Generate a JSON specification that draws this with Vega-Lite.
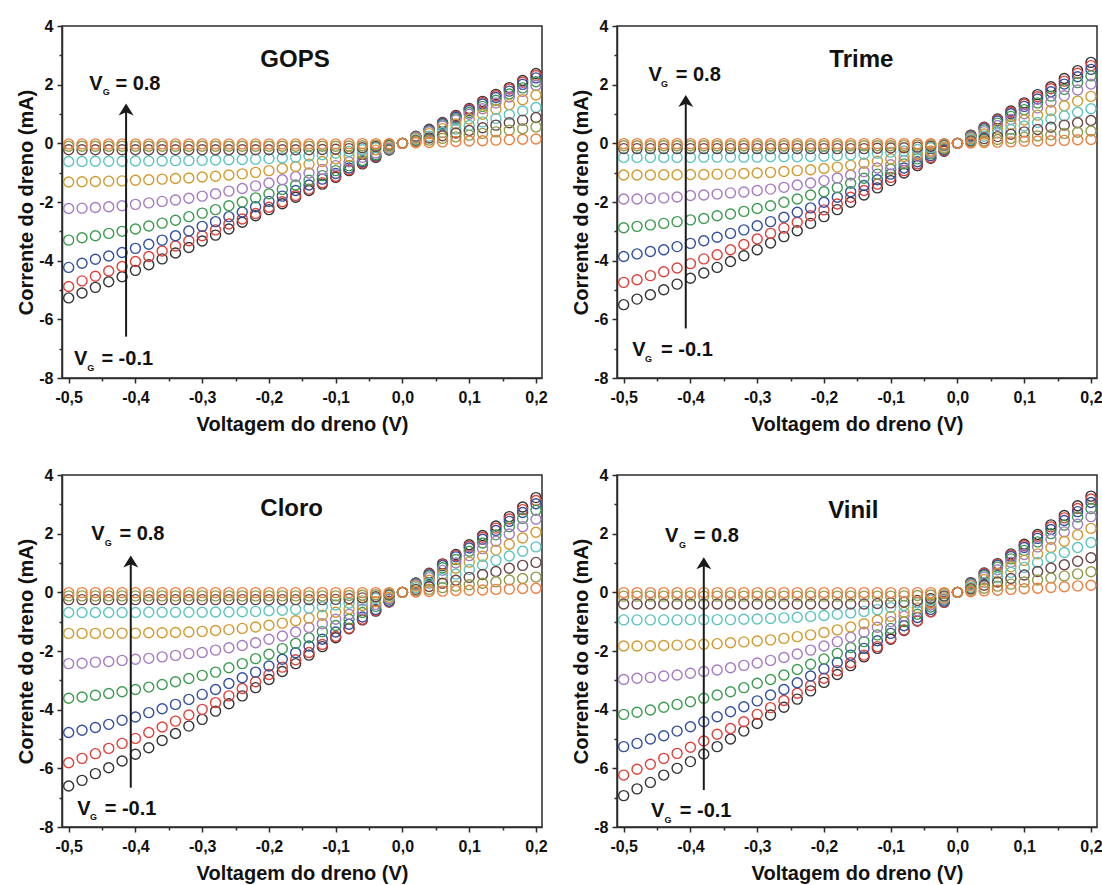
{
  "$schema": "https://vega.github.io/schema/vega-lite/v6.json",
  "background": "white",
  "padding": {"left": 16, "top": 17, "right": 0, "bottom": 0},
  "columns": 2,
  "bounds": "flush",
  "spacing": {"row": 97, "column": 75},
  "datasets": {
    "gops": [
      {"g":-0.1,"x":-0.5,"y":-5.27},{"g":-0.1,"x":-0.48,"y":-5.1},{"g":-0.1,"x":-0.46,"y":-4.91},{"g":-0.1,"x":-0.44,"y":-4.72},{"g":-0.1,"x":-0.42,"y":-4.55},{"g":-0.1,"x":-0.4,"y":-4.33},{"g":-0.1,"x":-0.38,"y":-4.14},{"g":-0.1,"x":-0.36,"y":-3.94},{"g":-0.1,"x":-0.34,"y":-3.74},{"g":-0.1,"x":-0.32,"y":-3.55},{"g":-0.1,"x":-0.3,"y":-3.33},{"g":-0.1,"x":-0.28,"y":-3.13},{"g":-0.1,"x":-0.26,"y":-2.92},{"g":-0.1,"x":-0.24,"y":-2.69},{"g":-0.1,"x":-0.22,"y":-2.47},{"g":-0.1,"x":-0.2,"y":-2.26},{"g":-0.1,"x":-0.18,"y":-2.06},{"g":-0.1,"x":-0.16,"y":-1.84},{"g":-0.1,"x":-0.14,"y":-1.61},{"g":-0.1,"x":-0.12,"y":-1.39},{"g":-0.1,"x":-0.1,"y":-1.16},{"g":-0.1,"x":-0.08,"y":-0.93},{"g":-0.1,"x":-0.06,"y":-0.7},{"g":-0.1,"x":-0.04,"y":-0.48},{"g":-0.1,"x":-0.02,"y":-0.23},{"g":-0.1,"x":0,"y":0},{"g":-0.1,"x":0.02,"y":0.24},{"g":-0.1,"x":0.04,"y":0.48},{"g":-0.1,"x":0.06,"y":0.71},{"g":-0.1,"x":0.08,"y":0.95},{"g":-0.1,"x":0.1,"y":1.19},{"g":-0.1,"x":0.12,"y":1.43},{"g":-0.1,"x":0.14,"y":1.67},{"g":-0.1,"x":0.16,"y":1.9},{"g":-0.1,"x":0.18,"y":2.14},{"g":-0.1,"x":0.2,"y":2.38},
      {"g":0,"x":-0.5,"y":-4.88},{"g":0,"x":-0.48,"y":-4.69},{"g":0,"x":-0.46,"y":-4.53},{"g":0,"x":-0.44,"y":-4.35},{"g":0,"x":-0.42,"y":-4.2},{"g":0,"x":-0.4,"y":-4.03},{"g":0,"x":-0.38,"y":-3.86},{"g":0,"x":-0.36,"y":-3.67},{"g":0,"x":-0.34,"y":-3.5},{"g":0,"x":-0.32,"y":-3.32},{"g":0,"x":-0.3,"y":-3.15},{"g":0,"x":-0.28,"y":-2.95},{"g":0,"x":-0.26,"y":-2.75},{"g":0,"x":-0.24,"y":-2.58},{"g":0,"x":-0.22,"y":-2.39},{"g":0,"x":-0.2,"y":-2.18},{"g":0,"x":-0.18,"y":-1.99},{"g":0,"x":-0.16,"y":-1.78},{"g":0,"x":-0.14,"y":-1.56},{"g":0,"x":-0.12,"y":-1.34},{"g":0,"x":-0.1,"y":-1.12},{"g":0,"x":-0.08,"y":-0.9},{"g":0,"x":-0.06,"y":-0.67},{"g":0,"x":-0.04,"y":-0.45},{"g":0,"x":-0.02,"y":-0.22},{"g":0,"x":0,"y":0},{"g":0,"x":0.02,"y":0.23},{"g":0,"x":0.04,"y":0.46},{"g":0,"x":0.06,"y":0.69},{"g":0,"x":0.08,"y":0.92},{"g":0,"x":0.1,"y":1.16},{"g":0,"x":0.12,"y":1.39},{"g":0,"x":0.14,"y":1.62},{"g":0,"x":0.16,"y":1.85},{"g":0,"x":0.18,"y":2.08},{"g":0,"x":0.2,"y":2.31},
      {"g":0.1,"x":-0.5,"y":-4.23},{"g":0.1,"x":-0.48,"y":-4.09},{"g":0.1,"x":-0.46,"y":-3.95},{"g":0.1,"x":-0.44,"y":-3.84},{"g":0.1,"x":-0.42,"y":-3.72},{"g":0.1,"x":-0.4,"y":-3.58},{"g":0.1,"x":-0.38,"y":-3.44},{"g":0.1,"x":-0.36,"y":-3.3},{"g":0.1,"x":-0.34,"y":-3.15},{"g":0.1,"x":-0.32,"y":-2.99},{"g":0.1,"x":-0.3,"y":-2.83},{"g":0.1,"x":-0.28,"y":-2.67},{"g":0.1,"x":-0.26,"y":-2.5},{"g":0.1,"x":-0.24,"y":-2.34},{"g":0.1,"x":-0.22,"y":-2.16},{"g":0.1,"x":-0.2,"y":-1.98},{"g":0.1,"x":-0.18,"y":-1.8},{"g":0.1,"x":-0.16,"y":-1.61},{"g":0.1,"x":-0.14,"y":-1.42},{"g":0.1,"x":-0.12,"y":-1.22},{"g":0.1,"x":-0.1,"y":-1.03},{"g":0.1,"x":-0.08,"y":-0.84},{"g":0.1,"x":-0.06,"y":-0.63},{"g":0.1,"x":-0.04,"y":-0.42},{"g":0.1,"x":-0.02,"y":-0.21},{"g":0.1,"x":0,"y":0},{"g":0.1,"x":0.02,"y":0.22},{"g":0.1,"x":0.04,"y":0.45},{"g":0.1,"x":0.06,"y":0.67},{"g":0.1,"x":0.08,"y":0.89},{"g":0.1,"x":0.1,"y":1.12},{"g":0.1,"x":0.12,"y":1.34},{"g":0.1,"x":0.14,"y":1.56},{"g":0.1,"x":0.16,"y":1.78},{"g":0.1,"x":0.18,"y":2.01},{"g":0.1,"x":0.2,"y":2.23},
      {"g":0.2,"x":-0.5,"y":-3.3},{"g":0.2,"x":-0.48,"y":-3.22},{"g":0.2,"x":-0.46,"y":-3.15},{"g":0.2,"x":-0.44,"y":-3.07},{"g":0.2,"x":-0.42,"y":-3},{"g":0.2,"x":-0.4,"y":-2.92},{"g":0.2,"x":-0.38,"y":-2.82},{"g":0.2,"x":-0.36,"y":-2.72},{"g":0.2,"x":-0.34,"y":-2.62},{"g":0.2,"x":-0.32,"y":-2.5},{"g":0.2,"x":-0.3,"y":-2.38},{"g":0.2,"x":-0.28,"y":-2.26},{"g":0.2,"x":-0.26,"y":-2.13},{"g":0.2,"x":-0.24,"y":-2},{"g":0.2,"x":-0.22,"y":-1.86},{"g":0.2,"x":-0.2,"y":-1.72},{"g":0.2,"x":-0.18,"y":-1.57},{"g":0.2,"x":-0.16,"y":-1.42},{"g":0.2,"x":-0.14,"y":-1.26},{"g":0.2,"x":-0.12,"y":-1.1},{"g":0.2,"x":-0.1,"y":-0.93},{"g":0.2,"x":-0.08,"y":-0.76},{"g":0.2,"x":-0.06,"y":-0.58},{"g":0.2,"x":-0.04,"y":-0.39},{"g":0.2,"x":-0.02,"y":-0.2},{"g":0.2,"x":0,"y":0},{"g":0.2,"x":0.02,"y":0.21},{"g":0.2,"x":0.04,"y":0.42},{"g":0.2,"x":0.06,"y":0.63},{"g":0.2,"x":0.08,"y":0.84},{"g":0.2,"x":0.1,"y":1.05},{"g":0.2,"x":0.12,"y":1.26},{"g":0.2,"x":0.14,"y":1.47},{"g":0.2,"x":0.16,"y":1.68},{"g":0.2,"x":0.18,"y":1.89},{"g":0.2,"x":0.2,"y":2.1},
      {"g":0.3,"x":-0.5,"y":-2.22},{"g":0.3,"x":-0.48,"y":-2.21},{"g":0.3,"x":-0.46,"y":-2.19},{"g":0.3,"x":-0.44,"y":-2.16},{"g":0.3,"x":-0.42,"y":-2.13},{"g":0.3,"x":-0.4,"y":-2.08},{"g":0.3,"x":-0.38,"y":-2.03},{"g":0.3,"x":-0.36,"y":-1.98},{"g":0.3,"x":-0.34,"y":-1.93},{"g":0.3,"x":-0.32,"y":-1.87},{"g":0.3,"x":-0.3,"y":-1.8},{"g":0.3,"x":-0.28,"y":-1.72},{"g":0.3,"x":-0.26,"y":-1.63},{"g":0.3,"x":-0.24,"y":-1.54},{"g":0.3,"x":-0.22,"y":-1.45},{"g":0.3,"x":-0.2,"y":-1.35},{"g":0.3,"x":-0.18,"y":-1.24},{"g":0.3,"x":-0.16,"y":-1.13},{"g":0.3,"x":-0.14,"y":-1.01},{"g":0.3,"x":-0.12,"y":-0.89},{"g":0.3,"x":-0.1,"y":-0.76},{"g":0.3,"x":-0.08,"y":-0.63},{"g":0.3,"x":-0.06,"y":-0.48},{"g":0.3,"x":-0.04,"y":-0.33},{"g":0.3,"x":-0.02,"y":-0.17},{"g":0.3,"x":0,"y":0},{"g":0.3,"x":0.02,"y":0.2},{"g":0.3,"x":0.04,"y":0.39},{"g":0.3,"x":0.06,"y":0.59},{"g":0.3,"x":0.08,"y":0.79},{"g":0.3,"x":0.1,"y":0.99},{"g":0.3,"x":0.12,"y":1.18},{"g":0.3,"x":0.14,"y":1.38},{"g":0.3,"x":0.16,"y":1.58},{"g":0.3,"x":0.18,"y":1.77},{"g":0.3,"x":0.2,"y":1.97},
      {"g":0.4,"x":-0.5,"y":-1.32},{"g":0.4,"x":-0.48,"y":-1.31},{"g":0.4,"x":-0.46,"y":-1.3},{"g":0.4,"x":-0.44,"y":-1.29},{"g":0.4,"x":-0.42,"y":-1.28},{"g":0.4,"x":-0.4,"y":-1.26},{"g":0.4,"x":-0.38,"y":-1.24},{"g":0.4,"x":-0.36,"y":-1.22},{"g":0.4,"x":-0.34,"y":-1.2},{"g":0.4,"x":-0.32,"y":-1.18},{"g":0.4,"x":-0.3,"y":-1.15},{"g":0.4,"x":-0.28,"y":-1.12},{"g":0.4,"x":-0.26,"y":-1.08},{"g":0.4,"x":-0.24,"y":-1.04},{"g":0.4,"x":-0.22,"y":-0.99},{"g":0.4,"x":-0.2,"y":-0.93},{"g":0.4,"x":-0.18,"y":-0.86},{"g":0.4,"x":-0.16,"y":-0.79},{"g":0.4,"x":-0.14,"y":-0.71},{"g":0.4,"x":-0.12,"y":-0.62},{"g":0.4,"x":-0.1,"y":-0.53},{"g":0.4,"x":-0.08,"y":-0.44},{"g":0.4,"x":-0.06,"y":-0.34},{"g":0.4,"x":-0.04,"y":-0.23},{"g":0.4,"x":-0.02,"y":-0.12},{"g":0.4,"x":0,"y":0},{"g":0.4,"x":0.02,"y":0.17},{"g":0.4,"x":0.04,"y":0.33},{"g":0.4,"x":0.06,"y":0.5},{"g":0.4,"x":0.08,"y":0.66},{"g":0.4,"x":0.1,"y":0.83},{"g":0.4,"x":0.12,"y":0.99},{"g":0.4,"x":0.14,"y":1.16},{"g":0.4,"x":0.16,"y":1.32},{"g":0.4,"x":0.18,"y":1.49},{"g":0.4,"x":0.2,"y":1.65},
      {"g":0.5,"x":-0.5,"y":-0.62},{"g":0.5,"x":-0.48,"y":-0.62},{"g":0.5,"x":-0.46,"y":-0.61},{"g":0.5,"x":-0.44,"y":-0.61},{"g":0.5,"x":-0.42,"y":-0.61},{"g":0.5,"x":-0.4,"y":-0.6},{"g":0.5,"x":-0.38,"y":-0.6},{"g":0.5,"x":-0.36,"y":-0.6},{"g":0.5,"x":-0.34,"y":-0.59},{"g":0.5,"x":-0.32,"y":-0.59},{"g":0.5,"x":-0.3,"y":-0.58},{"g":0.5,"x":-0.28,"y":-0.57},{"g":0.5,"x":-0.26,"y":-0.56},{"g":0.5,"x":-0.24,"y":-0.55},{"g":0.5,"x":-0.22,"y":-0.54},{"g":0.5,"x":-0.2,"y":-0.52},{"g":0.5,"x":-0.18,"y":-0.5},{"g":0.5,"x":-0.16,"y":-0.47},{"g":0.5,"x":-0.14,"y":-0.43},{"g":0.5,"x":-0.12,"y":-0.39},{"g":0.5,"x":-0.1,"y":-0.34},{"g":0.5,"x":-0.08,"y":-0.28},{"g":0.5,"x":-0.06,"y":-0.22},{"g":0.5,"x":-0.04,"y":-0.15},{"g":0.5,"x":-0.02,"y":-0.08},{"g":0.5,"x":0,"y":0},{"g":0.5,"x":0.02,"y":0.12},{"g":0.5,"x":0.04,"y":0.24},{"g":0.5,"x":0.06,"y":0.37},{"g":0.5,"x":0.08,"y":0.49},{"g":0.5,"x":0.1,"y":0.61},{"g":0.5,"x":0.12,"y":0.73},{"g":0.5,"x":0.14,"y":0.85},{"g":0.5,"x":0.16,"y":0.98},{"g":0.5,"x":0.18,"y":1.1},{"g":0.5,"x":0.2,"y":1.22},
      {"g":0.6,"x":-0.5,"y":-0.22},{"g":0.6,"x":-0.48,"y":-0.22},{"g":0.6,"x":-0.46,"y":-0.22},{"g":0.6,"x":-0.44,"y":-0.22},{"g":0.6,"x":-0.42,"y":-0.22},{"g":0.6,"x":-0.4,"y":-0.22},{"g":0.6,"x":-0.38,"y":-0.22},{"g":0.6,"x":-0.36,"y":-0.22},{"g":0.6,"x":-0.34,"y":-0.22},{"g":0.6,"x":-0.32,"y":-0.22},{"g":0.6,"x":-0.3,"y":-0.22},{"g":0.6,"x":-0.28,"y":-0.22},{"g":0.6,"x":-0.26,"y":-0.22},{"g":0.6,"x":-0.24,"y":-0.22},{"g":0.6,"x":-0.22,"y":-0.22},{"g":0.6,"x":-0.2,"y":-0.22},{"g":0.6,"x":-0.18,"y":-0.22},{"g":0.6,"x":-0.16,"y":-0.22},{"g":0.6,"x":-0.14,"y":-0.22},{"g":0.6,"x":-0.12,"y":-0.21},{"g":0.6,"x":-0.1,"y":-0.2},{"g":0.6,"x":-0.08,"y":-0.18},{"g":0.6,"x":-0.06,"y":-0.15},{"g":0.6,"x":-0.04,"y":-0.11},{"g":0.6,"x":-0.02,"y":-0.06},{"g":0.6,"x":0,"y":0},{"g":0.6,"x":0.02,"y":0.09},{"g":0.6,"x":0.04,"y":0.18},{"g":0.6,"x":0.06,"y":0.26},{"g":0.6,"x":0.08,"y":0.35},{"g":0.6,"x":0.1,"y":0.44},{"g":0.6,"x":0.12,"y":0.53},{"g":0.6,"x":0.14,"y":0.62},{"g":0.6,"x":0.16,"y":0.7},{"g":0.6,"x":0.18,"y":0.79},{"g":0.6,"x":0.2,"y":0.88},
      {"g":0.7,"x":-0.5,"y":-0.1},{"g":0.7,"x":-0.48,"y":-0.1},{"g":0.7,"x":-0.46,"y":-0.1},{"g":0.7,"x":-0.44,"y":-0.1},{"g":0.7,"x":-0.42,"y":-0.1},{"g":0.7,"x":-0.4,"y":-0.1},{"g":0.7,"x":-0.38,"y":-0.1},{"g":0.7,"x":-0.36,"y":-0.1},{"g":0.7,"x":-0.34,"y":-0.1},{"g":0.7,"x":-0.32,"y":-0.1},{"g":0.7,"x":-0.3,"y":-0.1},{"g":0.7,"x":-0.28,"y":-0.1},{"g":0.7,"x":-0.26,"y":-0.1},{"g":0.7,"x":-0.24,"y":-0.1},{"g":0.7,"x":-0.22,"y":-0.1},{"g":0.7,"x":-0.2,"y":-0.1},{"g":0.7,"x":-0.18,"y":-0.1},{"g":0.7,"x":-0.16,"y":-0.1},{"g":0.7,"x":-0.14,"y":-0.1},{"g":0.7,"x":-0.12,"y":-0.1},{"g":0.7,"x":-0.1,"y":-0.1},{"g":0.7,"x":-0.08,"y":-0.09},{"g":0.7,"x":-0.06,"y":-0.08},{"g":0.7,"x":-0.04,"y":-0.06},{"g":0.7,"x":-0.02,"y":-0.03},{"g":0.7,"x":0,"y":0},{"g":0.7,"x":0.02,"y":0.06},{"g":0.7,"x":0.04,"y":0.11},{"g":0.7,"x":0.06,"y":0.17},{"g":0.7,"x":0.08,"y":0.22},{"g":0.7,"x":0.1,"y":0.28},{"g":0.7,"x":0.12,"y":0.34},{"g":0.7,"x":0.14,"y":0.39},{"g":0.7,"x":0.16,"y":0.45},{"g":0.7,"x":0.18,"y":0.5},{"g":0.7,"x":0.2,"y":0.56},
      {"g":0.8,"x":-0.5,"y":-0.02},{"g":0.8,"x":-0.48,"y":-0.02},{"g":0.8,"x":-0.46,"y":-0.02},{"g":0.8,"x":-0.44,"y":-0.02},{"g":0.8,"x":-0.42,"y":-0.02},{"g":0.8,"x":-0.4,"y":-0.02},{"g":0.8,"x":-0.38,"y":-0.02},{"g":0.8,"x":-0.36,"y":-0.02},{"g":0.8,"x":-0.34,"y":-0.02},{"g":0.8,"x":-0.32,"y":-0.02},{"g":0.8,"x":-0.3,"y":-0.02},{"g":0.8,"x":-0.28,"y":-0.02},{"g":0.8,"x":-0.26,"y":-0.02},{"g":0.8,"x":-0.24,"y":-0.02},{"g":0.8,"x":-0.22,"y":-0.02},{"g":0.8,"x":-0.2,"y":-0.02},{"g":0.8,"x":-0.18,"y":-0.02},{"g":0.8,"x":-0.16,"y":-0.02},{"g":0.8,"x":-0.14,"y":-0.02},{"g":0.8,"x":-0.12,"y":-0.02},{"g":0.8,"x":-0.1,"y":-0.02},{"g":0.8,"x":-0.08,"y":-0.01},{"g":0.8,"x":-0.06,"y":-0.01},{"g":0.8,"x":-0.04,"y":-0.01},{"g":0.8,"x":-0.02,"y":-0.01},{"g":0.8,"x":0,"y":0},{"g":0.8,"x":0.02,"y":0.02},{"g":0.8,"x":0.04,"y":0.03},{"g":0.8,"x":0.06,"y":0.05},{"g":0.8,"x":0.08,"y":0.06},{"g":0.8,"x":0.1,"y":0.08},{"g":0.8,"x":0.12,"y":0.09},{"g":0.8,"x":0.14,"y":0.11},{"g":0.8,"x":0.16,"y":0.12},{"g":0.8,"x":0.18,"y":0.14},{"g":0.8,"x":0.2,"y":0.15}
    ],
    "trime": [
      {"g":-0.1,"x":-0.5,"y":-5.5},{"g":-0.1,"x":-0.48,"y":-5.31},{"g":-0.1,"x":-0.46,"y":-5.16},{"g":-0.1,"x":-0.44,"y":-4.99},{"g":-0.1,"x":-0.42,"y":-4.8},{"g":-0.1,"x":-0.4,"y":-4.6},{"g":-0.1,"x":-0.38,"y":-4.42},{"g":-0.1,"x":-0.36,"y":-4.23},{"g":-0.1,"x":-0.34,"y":-4.03},{"g":-0.1,"x":-0.32,"y":-3.83},{"g":-0.1,"x":-0.3,"y":-3.63},{"g":-0.1,"x":-0.28,"y":-3.4},{"g":-0.1,"x":-0.26,"y":-3.18},{"g":-0.1,"x":-0.24,"y":-2.98},{"g":-0.1,"x":-0.22,"y":-2.73},{"g":-0.1,"x":-0.2,"y":-2.5},{"g":-0.1,"x":-0.18,"y":-2.26},{"g":-0.1,"x":-0.16,"y":-2.01},{"g":-0.1,"x":-0.14,"y":-1.76},{"g":-0.1,"x":-0.12,"y":-1.52},{"g":-0.1,"x":-0.1,"y":-1.27},{"g":-0.1,"x":-0.08,"y":-1.01},{"g":-0.1,"x":-0.06,"y":-0.76},{"g":-0.1,"x":-0.04,"y":-0.51},{"g":-0.1,"x":-0.02,"y":-0.27},{"g":-0.1,"x":0,"y":0},{"g":-0.1,"x":0.02,"y":0.28},{"g":-0.1,"x":0.04,"y":0.55},{"g":-0.1,"x":0.06,"y":0.83},{"g":-0.1,"x":0.08,"y":1.1},{"g":-0.1,"x":0.1,"y":1.38},{"g":-0.1,"x":0.12,"y":1.66},{"g":-0.1,"x":0.14,"y":1.93},{"g":-0.1,"x":0.16,"y":2.21},{"g":-0.1,"x":0.18,"y":2.48},{"g":-0.1,"x":0.2,"y":2.76},
      {"g":0,"x":-0.5,"y":-4.74},{"g":0,"x":-0.48,"y":-4.65},{"g":0,"x":-0.46,"y":-4.51},{"g":0,"x":-0.44,"y":-4.38},{"g":0,"x":-0.42,"y":-4.25},{"g":0,"x":-0.4,"y":-4.1},{"g":0,"x":-0.38,"y":-3.94},{"g":0,"x":-0.36,"y":-3.8},{"g":0,"x":-0.34,"y":-3.63},{"g":0,"x":-0.32,"y":-3.45},{"g":0,"x":-0.3,"y":-3.26},{"g":0,"x":-0.28,"y":-3.07},{"g":0,"x":-0.26,"y":-2.89},{"g":0,"x":-0.24,"y":-2.69},{"g":0,"x":-0.22,"y":-2.47},{"g":0,"x":-0.2,"y":-2.27},{"g":0,"x":-0.18,"y":-2.07},{"g":0,"x":-0.16,"y":-1.84},{"g":0,"x":-0.14,"y":-1.61},{"g":0,"x":-0.12,"y":-1.39},{"g":0,"x":-0.1,"y":-1.16},{"g":0,"x":-0.08,"y":-0.93},{"g":0,"x":-0.06,"y":-0.7},{"g":0,"x":-0.04,"y":-0.48},{"g":0,"x":-0.02,"y":-0.25},{"g":0,"x":0,"y":0},{"g":0,"x":0.02,"y":0.27},{"g":0,"x":0.04,"y":0.53},{"g":0,"x":0.06,"y":0.8},{"g":0,"x":0.08,"y":1.06},{"g":0,"x":0.1,"y":1.33},{"g":0,"x":0.12,"y":1.59},{"g":0,"x":0.14,"y":1.86},{"g":0,"x":0.16,"y":2.12},{"g":0,"x":0.18,"y":2.39},{"g":0,"x":0.2,"y":2.65},
      {"g":0.1,"x":-0.5,"y":-3.86},{"g":0.1,"x":-0.48,"y":-3.77},{"g":0.1,"x":-0.46,"y":-3.69},{"g":0.1,"x":-0.44,"y":-3.63},{"g":0.1,"x":-0.42,"y":-3.52},{"g":0.1,"x":-0.4,"y":-3.41},{"g":0.1,"x":-0.38,"y":-3.32},{"g":0.1,"x":-0.36,"y":-3.2},{"g":0.1,"x":-0.34,"y":-3.07},{"g":0.1,"x":-0.32,"y":-2.95},{"g":0.1,"x":-0.3,"y":-2.81},{"g":0.1,"x":-0.28,"y":-2.67},{"g":0.1,"x":-0.26,"y":-2.52},{"g":0.1,"x":-0.24,"y":-2.35},{"g":0.1,"x":-0.22,"y":-2.2},{"g":0.1,"x":-0.2,"y":-2.01},{"g":0.1,"x":-0.18,"y":-1.84},{"g":0.1,"x":-0.16,"y":-1.65},{"g":0.1,"x":-0.14,"y":-1.44},{"g":0.1,"x":-0.12,"y":-1.24},{"g":0.1,"x":-0.1,"y":-1.05},{"g":0.1,"x":-0.08,"y":-0.84},{"g":0.1,"x":-0.06,"y":-0.63},{"g":0.1,"x":-0.04,"y":-0.42},{"g":0.1,"x":-0.02,"y":-0.22},{"g":0.1,"x":0,"y":0},{"g":0.1,"x":0.02,"y":0.25},{"g":0.1,"x":0.04,"y":0.5},{"g":0.1,"x":0.06,"y":0.76},{"g":0.1,"x":0.08,"y":1.01},{"g":0.1,"x":0.1,"y":1.26},{"g":0.1,"x":0.12,"y":1.51},{"g":0.1,"x":0.14,"y":1.76},{"g":0.1,"x":0.16,"y":2.02},{"g":0.1,"x":0.18,"y":2.27},{"g":0.1,"x":0.2,"y":2.52},
      {"g":0.2,"x":-0.5,"y":-2.88},{"g":0.2,"x":-0.48,"y":-2.83},{"g":0.2,"x":-0.46,"y":-2.78},{"g":0.2,"x":-0.44,"y":-2.73},{"g":0.2,"x":-0.42,"y":-2.67},{"g":0.2,"x":-0.4,"y":-2.61},{"g":0.2,"x":-0.38,"y":-2.56},{"g":0.2,"x":-0.36,"y":-2.47},{"g":0.2,"x":-0.34,"y":-2.41},{"g":0.2,"x":-0.32,"y":-2.32},{"g":0.2,"x":-0.3,"y":-2.22},{"g":0.2,"x":-0.28,"y":-2.13},{"g":0.2,"x":-0.26,"y":-2.01},{"g":0.2,"x":-0.24,"y":-1.9},{"g":0.2,"x":-0.22,"y":-1.76},{"g":0.2,"x":-0.2,"y":-1.65},{"g":0.2,"x":-0.18,"y":-1.51},{"g":0.2,"x":-0.16,"y":-1.36},{"g":0.2,"x":-0.14,"y":-1.19},{"g":0.2,"x":-0.12,"y":-1.05},{"g":0.2,"x":-0.1,"y":-0.88},{"g":0.2,"x":-0.08,"y":-0.7},{"g":0.2,"x":-0.06,"y":-0.53},{"g":0.2,"x":-0.04,"y":-0.36},{"g":0.2,"x":-0.02,"y":-0.19},{"g":0.2,"x":0,"y":0},{"g":0.2,"x":0.02,"y":0.23},{"g":0.2,"x":0.04,"y":0.46},{"g":0.2,"x":0.06,"y":0.69},{"g":0.2,"x":0.08,"y":0.92},{"g":0.2,"x":0.1,"y":1.15},{"g":0.2,"x":0.12,"y":1.38},{"g":0.2,"x":0.14,"y":1.61},{"g":0.2,"x":0.16,"y":1.84},{"g":0.2,"x":0.18,"y":2.07},{"g":0.2,"x":0.2,"y":2.3},
      {"g":0.3,"x":-0.5,"y":-1.9},{"g":0.3,"x":-0.48,"y":-1.9},{"g":0.3,"x":-0.46,"y":-1.88},{"g":0.3,"x":-0.44,"y":-1.86},{"g":0.3,"x":-0.42,"y":-1.83},{"g":0.3,"x":-0.4,"y":-1.78},{"g":0.3,"x":-0.38,"y":-1.76},{"g":0.3,"x":-0.36,"y":-1.73},{"g":0.3,"x":-0.34,"y":-1.69},{"g":0.3,"x":-0.32,"y":-1.66},{"g":0.3,"x":-0.3,"y":-1.61},{"g":0.3,"x":-0.28,"y":-1.56},{"g":0.3,"x":-0.26,"y":-1.5},{"g":0.3,"x":-0.24,"y":-1.42},{"g":0.3,"x":-0.22,"y":-1.35},{"g":0.3,"x":-0.2,"y":-1.27},{"g":0.3,"x":-0.18,"y":-1.18},{"g":0.3,"x":-0.16,"y":-1.08},{"g":0.3,"x":-0.14,"y":-0.97},{"g":0.3,"x":-0.12,"y":-0.84},{"g":0.3,"x":-0.1,"y":-0.73},{"g":0.3,"x":-0.08,"y":-0.59},{"g":0.3,"x":-0.06,"y":-0.44},{"g":0.3,"x":-0.04,"y":-0.31},{"g":0.3,"x":-0.02,"y":-0.16},{"g":0.3,"x":0,"y":0},{"g":0.3,"x":0.02,"y":0.2},{"g":0.3,"x":0.04,"y":0.4},{"g":0.3,"x":0.06,"y":0.61},{"g":0.3,"x":0.08,"y":0.81},{"g":0.3,"x":0.1,"y":1.01},{"g":0.3,"x":0.12,"y":1.21},{"g":0.3,"x":0.14,"y":1.41},{"g":0.3,"x":0.16,"y":1.62},{"g":0.3,"x":0.18,"y":1.82},{"g":0.3,"x":0.2,"y":2.02},
      {"g":0.4,"x":-0.5,"y":-1.08},{"g":0.4,"x":-0.48,"y":-1.08},{"g":0.4,"x":-0.46,"y":-1.08},{"g":0.4,"x":-0.44,"y":-1.07},{"g":0.4,"x":-0.42,"y":-1.07},{"g":0.4,"x":-0.4,"y":-1.06},{"g":0.4,"x":-0.38,"y":-1.06},{"g":0.4,"x":-0.36,"y":-1.05},{"g":0.4,"x":-0.34,"y":-1.04},{"g":0.4,"x":-0.32,"y":-1.03},{"g":0.4,"x":-0.3,"y":-1.01},{"g":0.4,"x":-0.28,"y":-0.99},{"g":0.4,"x":-0.26,"y":-0.96},{"g":0.4,"x":-0.24,"y":-0.93},{"g":0.4,"x":-0.22,"y":-0.9},{"g":0.4,"x":-0.2,"y":-0.86},{"g":0.4,"x":-0.18,"y":-0.81},{"g":0.4,"x":-0.16,"y":-0.75},{"g":0.4,"x":-0.14,"y":-0.68},{"g":0.4,"x":-0.12,"y":-0.61},{"g":0.4,"x":-0.1,"y":-0.53},{"g":0.4,"x":-0.08,"y":-0.45},{"g":0.4,"x":-0.06,"y":-0.36},{"g":0.4,"x":-0.04,"y":-0.26},{"g":0.4,"x":-0.02,"y":-0.14},{"g":0.4,"x":0,"y":0},{"g":0.4,"x":0.02,"y":0.16},{"g":0.4,"x":0.04,"y":0.32},{"g":0.4,"x":0.06,"y":0.48},{"g":0.4,"x":0.08,"y":0.64},{"g":0.4,"x":0.1,"y":0.8},{"g":0.4,"x":0.12,"y":0.96},{"g":0.4,"x":0.14,"y":1.12},{"g":0.4,"x":0.16,"y":1.28},{"g":0.4,"x":0.18,"y":1.44},{"g":0.4,"x":0.2,"y":1.6},
      {"g":0.5,"x":-0.5,"y":-0.48},{"g":0.5,"x":-0.48,"y":-0.48},{"g":0.5,"x":-0.46,"y":-0.48},{"g":0.5,"x":-0.44,"y":-0.48},{"g":0.5,"x":-0.42,"y":-0.48},{"g":0.5,"x":-0.4,"y":-0.48},{"g":0.5,"x":-0.38,"y":-0.47},{"g":0.5,"x":-0.36,"y":-0.47},{"g":0.5,"x":-0.34,"y":-0.47},{"g":0.5,"x":-0.32,"y":-0.47},{"g":0.5,"x":-0.3,"y":-0.47},{"g":0.5,"x":-0.28,"y":-0.46},{"g":0.5,"x":-0.26,"y":-0.46},{"g":0.5,"x":-0.24,"y":-0.46},{"g":0.5,"x":-0.22,"y":-0.45},{"g":0.5,"x":-0.2,"y":-0.44},{"g":0.5,"x":-0.18,"y":-0.42},{"g":0.5,"x":-0.16,"y":-0.4},{"g":0.5,"x":-0.14,"y":-0.37},{"g":0.5,"x":-0.12,"y":-0.34},{"g":0.5,"x":-0.1,"y":-0.3},{"g":0.5,"x":-0.08,"y":-0.26},{"g":0.5,"x":-0.06,"y":-0.21},{"g":0.5,"x":-0.04,"y":-0.15},{"g":0.5,"x":-0.02,"y":-0.08},{"g":0.5,"x":0,"y":0},{"g":0.5,"x":0.02,"y":0.12},{"g":0.5,"x":0.04,"y":0.24},{"g":0.5,"x":0.06,"y":0.35},{"g":0.5,"x":0.08,"y":0.47},{"g":0.5,"x":0.1,"y":0.59},{"g":0.5,"x":0.12,"y":0.71},{"g":0.5,"x":0.14,"y":0.83},{"g":0.5,"x":0.16,"y":0.94},{"g":0.5,"x":0.18,"y":1.06},{"g":0.5,"x":0.2,"y":1.18},
      {"g":0.6,"x":-0.5,"y":-0.18},{"g":0.6,"x":-0.48,"y":-0.18},{"g":0.6,"x":-0.46,"y":-0.18},{"g":0.6,"x":-0.44,"y":-0.18},{"g":0.6,"x":-0.42,"y":-0.18},{"g":0.6,"x":-0.4,"y":-0.18},{"g":0.6,"x":-0.38,"y":-0.18},{"g":0.6,"x":-0.36,"y":-0.18},{"g":0.6,"x":-0.34,"y":-0.18},{"g":0.6,"x":-0.32,"y":-0.18},{"g":0.6,"x":-0.3,"y":-0.18},{"g":0.6,"x":-0.28,"y":-0.18},{"g":0.6,"x":-0.26,"y":-0.18},{"g":0.6,"x":-0.24,"y":-0.18},{"g":0.6,"x":-0.22,"y":-0.18},{"g":0.6,"x":-0.2,"y":-0.18},{"g":0.6,"x":-0.18,"y":-0.18},{"g":0.6,"x":-0.16,"y":-0.18},{"g":0.6,"x":-0.14,"y":-0.18},{"g":0.6,"x":-0.12,"y":-0.17},{"g":0.6,"x":-0.1,"y":-0.16},{"g":0.6,"x":-0.08,"y":-0.15},{"g":0.6,"x":-0.06,"y":-0.13},{"g":0.6,"x":-0.04,"y":-0.1},{"g":0.6,"x":-0.02,"y":-0.06},{"g":0.6,"x":0,"y":0},{"g":0.6,"x":0.02,"y":0.08},{"g":0.6,"x":0.04,"y":0.16},{"g":0.6,"x":0.06,"y":0.23},{"g":0.6,"x":0.08,"y":0.31},{"g":0.6,"x":0.1,"y":0.39},{"g":0.6,"x":0.12,"y":0.47},{"g":0.6,"x":0.14,"y":0.55},{"g":0.6,"x":0.16,"y":0.62},{"g":0.6,"x":0.18,"y":0.7},{"g":0.6,"x":0.2,"y":0.78},
      {"g":0.7,"x":-0.5,"y":-0.08},{"g":0.7,"x":-0.48,"y":-0.08},{"g":0.7,"x":-0.46,"y":-0.08},{"g":0.7,"x":-0.44,"y":-0.08},{"g":0.7,"x":-0.42,"y":-0.08},{"g":0.7,"x":-0.4,"y":-0.08},{"g":0.7,"x":-0.38,"y":-0.08},{"g":0.7,"x":-0.36,"y":-0.08},{"g":0.7,"x":-0.34,"y":-0.08},{"g":0.7,"x":-0.32,"y":-0.08},{"g":0.7,"x":-0.3,"y":-0.08},{"g":0.7,"x":-0.28,"y":-0.08},{"g":0.7,"x":-0.26,"y":-0.08},{"g":0.7,"x":-0.24,"y":-0.08},{"g":0.7,"x":-0.22,"y":-0.08},{"g":0.7,"x":-0.2,"y":-0.08},{"g":0.7,"x":-0.18,"y":-0.08},{"g":0.7,"x":-0.16,"y":-0.08},{"g":0.7,"x":-0.14,"y":-0.08},{"g":0.7,"x":-0.12,"y":-0.08},{"g":0.7,"x":-0.1,"y":-0.08},{"g":0.7,"x":-0.08,"y":-0.07},{"g":0.7,"x":-0.06,"y":-0.06},{"g":0.7,"x":-0.04,"y":-0.05},{"g":0.7,"x":-0.02,"y":-0.03},{"g":0.7,"x":0,"y":0},{"g":0.7,"x":0.02,"y":0.04},{"g":0.7,"x":0.04,"y":0.08},{"g":0.7,"x":0.06,"y":0.13},{"g":0.7,"x":0.08,"y":0.17},{"g":0.7,"x":0.1,"y":0.21},{"g":0.7,"x":0.12,"y":0.25},{"g":0.7,"x":0.14,"y":0.29},{"g":0.7,"x":0.16,"y":0.34},{"g":0.7,"x":0.18,"y":0.38},{"g":0.7,"x":0.2,"y":0.42},
      {"g":0.8,"x":-0.5,"y":-0.01},{"g":0.8,"x":-0.48,"y":-0.01},{"g":0.8,"x":-0.46,"y":-0.01},{"g":0.8,"x":-0.44,"y":-0.01},{"g":0.8,"x":-0.42,"y":-0.01},{"g":0.8,"x":-0.4,"y":-0.01},{"g":0.8,"x":-0.38,"y":-0.01},{"g":0.8,"x":-0.36,"y":-0.01},{"g":0.8,"x":-0.34,"y":-0.01},{"g":0.8,"x":-0.32,"y":-0.01},{"g":0.8,"x":-0.3,"y":-0.01},{"g":0.8,"x":-0.28,"y":-0.01},{"g":0.8,"x":-0.26,"y":-0.01},{"g":0.8,"x":-0.24,"y":-0.01},{"g":0.8,"x":-0.22,"y":-0.01},{"g":0.8,"x":-0.2,"y":-0.01},{"g":0.8,"x":-0.18,"y":-0.01},{"g":0.8,"x":-0.16,"y":-0.01},{"g":0.8,"x":-0.14,"y":-0.01},{"g":0.8,"x":-0.12,"y":-0.01},{"g":0.8,"x":-0.1,"y":-0.01},{"g":0.8,"x":-0.08,"y":-0.01},{"g":0.8,"x":-0.06,"y":-0.01},{"g":0.8,"x":-0.04,"y":-0.01},{"g":0.8,"x":-0.02,"y":-0.01},{"g":0.8,"x":0,"y":0},{"g":0.8,"x":0.02,"y":0.01},{"g":0.8,"x":0.04,"y":0.03},{"g":0.8,"x":0.06,"y":0.04},{"g":0.8,"x":0.08,"y":0.05},{"g":0.8,"x":0.1,"y":0.07},{"g":0.8,"x":0.12,"y":0.08},{"g":0.8,"x":0.14,"y":0.09},{"g":0.8,"x":0.16,"y":0.1},{"g":0.8,"x":0.18,"y":0.12},{"g":0.8,"x":0.2,"y":0.13}
    ],
    "cloro": [
      {"g":-0.1,"x":-0.5,"y":-6.6},{"g":-0.1,"x":-0.48,"y":-6.41},{"g":-0.1,"x":-0.46,"y":-6.18},{"g":-0.1,"x":-0.44,"y":-5.98},{"g":-0.1,"x":-0.42,"y":-5.75},{"g":-0.1,"x":-0.4,"y":-5.52},{"g":-0.1,"x":-0.38,"y":-5.3},{"g":-0.1,"x":-0.36,"y":-5.05},{"g":-0.1,"x":-0.34,"y":-4.81},{"g":-0.1,"x":-0.32,"y":-4.56},{"g":-0.1,"x":-0.3,"y":-4.33},{"g":-0.1,"x":-0.28,"y":-4.05},{"g":-0.1,"x":-0.26,"y":-3.8},{"g":-0.1,"x":-0.24,"y":-3.53},{"g":-0.1,"x":-0.22,"y":-3.25},{"g":-0.1,"x":-0.2,"y":-2.97},{"g":-0.1,"x":-0.18,"y":-2.7},{"g":-0.1,"x":-0.16,"y":-2.43},{"g":-0.1,"x":-0.14,"y":-2.14},{"g":-0.1,"x":-0.12,"y":-1.85},{"g":-0.1,"x":-0.1,"y":-1.55},{"g":-0.1,"x":-0.08,"y":-1.24},{"g":-0.1,"x":-0.06,"y":-0.94},{"g":-0.1,"x":-0.04,"y":-0.64},{"g":-0.1,"x":-0.02,"y":-0.33},{"g":-0.1,"x":0,"y":0},{"g":-0.1,"x":0.02,"y":0.32},{"g":-0.1,"x":0.04,"y":0.65},{"g":-0.1,"x":0.06,"y":0.97},{"g":-0.1,"x":0.08,"y":1.29},{"g":-0.1,"x":0.1,"y":1.62},{"g":-0.1,"x":0.12,"y":1.94},{"g":-0.1,"x":0.14,"y":2.26},{"g":-0.1,"x":0.16,"y":2.58},{"g":-0.1,"x":0.18,"y":2.91},{"g":-0.1,"x":0.2,"y":3.23},
      {"g":0,"x":-0.5,"y":-5.81},{"g":0,"x":-0.48,"y":-5.66},{"g":0,"x":-0.46,"y":-5.5},{"g":0,"x":-0.44,"y":-5.32},{"g":0,"x":-0.42,"y":-5.15},{"g":0,"x":-0.4,"y":-4.98},{"g":0,"x":-0.38,"y":-4.78},{"g":0,"x":-0.36,"y":-4.59},{"g":0,"x":-0.34,"y":-4.39},{"g":0,"x":-0.32,"y":-4.18},{"g":0,"x":-0.3,"y":-3.99},{"g":0,"x":-0.28,"y":-3.76},{"g":0,"x":-0.26,"y":-3.53},{"g":0,"x":-0.24,"y":-3.28},{"g":0,"x":-0.22,"y":-3.05},{"g":0,"x":-0.2,"y":-2.8},{"g":0,"x":-0.18,"y":-2.55},{"g":0,"x":-0.16,"y":-2.3},{"g":0,"x":-0.14,"y":-2.05},{"g":0,"x":-0.12,"y":-1.78},{"g":0,"x":-0.1,"y":-1.5},{"g":0,"x":-0.08,"y":-1.22},{"g":0,"x":-0.06,"y":-0.92},{"g":0,"x":-0.04,"y":-0.62},{"g":0,"x":-0.02,"y":-0.32},{"g":0,"x":0,"y":0},{"g":0,"x":0.02,"y":0.31},{"g":0,"x":0.04,"y":0.63},{"g":0,"x":0.06,"y":0.94},{"g":0,"x":0.08,"y":1.25},{"g":0,"x":0.1,"y":1.57},{"g":0,"x":0.12,"y":1.88},{"g":0,"x":0.14,"y":2.19},{"g":0,"x":0.16,"y":2.5},{"g":0,"x":0.18,"y":2.82},{"g":0,"x":0.2,"y":3.13},
      {"g":0.1,"x":-0.5,"y":-4.78},{"g":0.1,"x":-0.48,"y":-4.7},{"g":0.1,"x":-0.46,"y":-4.61},{"g":0.1,"x":-0.44,"y":-4.5},{"g":0.1,"x":-0.42,"y":-4.36},{"g":0.1,"x":-0.4,"y":-4.25},{"g":0.1,"x":-0.38,"y":-4.1},{"g":0.1,"x":-0.36,"y":-3.97},{"g":0.1,"x":-0.34,"y":-3.82},{"g":0.1,"x":-0.32,"y":-3.65},{"g":0.1,"x":-0.3,"y":-3.48},{"g":0.1,"x":-0.28,"y":-3.31},{"g":0.1,"x":-0.26,"y":-3.11},{"g":0.1,"x":-0.24,"y":-2.91},{"g":0.1,"x":-0.22,"y":-2.72},{"g":0.1,"x":-0.2,"y":-2.51},{"g":0.1,"x":-0.18,"y":-2.28},{"g":0.1,"x":-0.16,"y":-2.06},{"g":0.1,"x":-0.14,"y":-1.83},{"g":0.1,"x":-0.12,"y":-1.6},{"g":0.1,"x":-0.1,"y":-1.35},{"g":0.1,"x":-0.08,"y":-1.09},{"g":0.1,"x":-0.06,"y":-0.84},{"g":0.1,"x":-0.04,"y":-0.58},{"g":0.1,"x":-0.02,"y":-0.3},{"g":0.1,"x":0,"y":0},{"g":0.1,"x":0.02,"y":0.3},{"g":0.1,"x":0.04,"y":0.6},{"g":0.1,"x":0.06,"y":0.91},{"g":0.1,"x":0.08,"y":1.21},{"g":0.1,"x":0.1,"y":1.51},{"g":0.1,"x":0.12,"y":1.81},{"g":0.1,"x":0.14,"y":2.11},{"g":0.1,"x":0.16,"y":2.42},{"g":0.1,"x":0.18,"y":2.72},{"g":0.1,"x":0.2,"y":3.02},
      {"g":0.2,"x":-0.5,"y":-3.61},{"g":0.2,"x":-0.48,"y":-3.57},{"g":0.2,"x":-0.46,"y":-3.51},{"g":0.2,"x":-0.44,"y":-3.45},{"g":0.2,"x":-0.42,"y":-3.39},{"g":0.2,"x":-0.4,"y":-3.31},{"g":0.2,"x":-0.38,"y":-3.23},{"g":0.2,"x":-0.36,"y":-3.14},{"g":0.2,"x":-0.34,"y":-3.05},{"g":0.2,"x":-0.32,"y":-2.94},{"g":0.2,"x":-0.3,"y":-2.83},{"g":0.2,"x":-0.28,"y":-2.72},{"g":0.2,"x":-0.26,"y":-2.57},{"g":0.2,"x":-0.24,"y":-2.43},{"g":0.2,"x":-0.22,"y":-2.26},{"g":0.2,"x":-0.2,"y":-2.11},{"g":0.2,"x":-0.18,"y":-1.92},{"g":0.2,"x":-0.16,"y":-1.74},{"g":0.2,"x":-0.14,"y":-1.55},{"g":0.2,"x":-0.12,"y":-1.34},{"g":0.2,"x":-0.1,"y":-1.13},{"g":0.2,"x":-0.08,"y":-0.92},{"g":0.2,"x":-0.06,"y":-0.69},{"g":0.2,"x":-0.04,"y":-0.48},{"g":0.2,"x":-0.02,"y":-0.24},{"g":0.2,"x":0,"y":0},{"g":0.2,"x":0.02,"y":0.28},{"g":0.2,"x":0.04,"y":0.56},{"g":0.2,"x":0.06,"y":0.84},{"g":0.2,"x":0.08,"y":1.12},{"g":0.2,"x":0.1,"y":1.4},{"g":0.2,"x":0.12,"y":1.68},{"g":0.2,"x":0.14,"y":1.96},{"g":0.2,"x":0.16,"y":2.24},{"g":0.2,"x":0.18,"y":2.52},{"g":0.2,"x":0.2,"y":2.8},
      {"g":0.3,"x":-0.5,"y":-2.43},{"g":0.3,"x":-0.48,"y":-2.42},{"g":0.3,"x":-0.46,"y":-2.38},{"g":0.3,"x":-0.44,"y":-2.36},{"g":0.3,"x":-0.42,"y":-2.32},{"g":0.3,"x":-0.4,"y":-2.28},{"g":0.3,"x":-0.38,"y":-2.25},{"g":0.3,"x":-0.36,"y":-2.2},{"g":0.3,"x":-0.34,"y":-2.15},{"g":0.3,"x":-0.32,"y":-2.09},{"g":0.3,"x":-0.3,"y":-2.05},{"g":0.3,"x":-0.28,"y":-1.97},{"g":0.3,"x":-0.26,"y":-1.89},{"g":0.3,"x":-0.24,"y":-1.81},{"g":0.3,"x":-0.22,"y":-1.72},{"g":0.3,"x":-0.2,"y":-1.6},{"g":0.3,"x":-0.18,"y":-1.49},{"g":0.3,"x":-0.16,"y":-1.35},{"g":0.3,"x":-0.14,"y":-1.2},{"g":0.3,"x":-0.12,"y":-1.07},{"g":0.3,"x":-0.1,"y":-0.92},{"g":0.3,"x":-0.08,"y":-0.75},{"g":0.3,"x":-0.06,"y":-0.58},{"g":0.3,"x":-0.04,"y":-0.41},{"g":0.3,"x":-0.02,"y":-0.22},{"g":0.3,"x":0,"y":0},{"g":0.3,"x":0.02,"y":0.25},{"g":0.3,"x":0.04,"y":0.5},{"g":0.3,"x":0.06,"y":0.75},{"g":0.3,"x":0.08,"y":1},{"g":0.3,"x":0.1,"y":1.25},{"g":0.3,"x":0.12,"y":1.49},{"g":0.3,"x":0.14,"y":1.74},{"g":0.3,"x":0.16,"y":1.99},{"g":0.3,"x":0.18,"y":2.24},{"g":0.3,"x":0.2,"y":2.49},
      {"g":0.4,"x":-0.5,"y":-1.4},{"g":0.4,"x":-0.48,"y":-1.4},{"g":0.4,"x":-0.46,"y":-1.4},{"g":0.4,"x":-0.44,"y":-1.39},{"g":0.4,"x":-0.42,"y":-1.39},{"g":0.4,"x":-0.4,"y":-1.39},{"g":0.4,"x":-0.38,"y":-1.38},{"g":0.4,"x":-0.36,"y":-1.38},{"g":0.4,"x":-0.34,"y":-1.37},{"g":0.4,"x":-0.32,"y":-1.35},{"g":0.4,"x":-0.3,"y":-1.33},{"g":0.4,"x":-0.28,"y":-1.3},{"g":0.4,"x":-0.26,"y":-1.27},{"g":0.4,"x":-0.24,"y":-1.23},{"g":0.4,"x":-0.22,"y":-1.18},{"g":0.4,"x":-0.2,"y":-1.12},{"g":0.4,"x":-0.18,"y":-1.05},{"g":0.4,"x":-0.16,"y":-0.97},{"g":0.4,"x":-0.14,"y":-0.88},{"g":0.4,"x":-0.12,"y":-0.78},{"g":0.4,"x":-0.1,"y":-0.68},{"g":0.4,"x":-0.08,"y":-0.57},{"g":0.4,"x":-0.06,"y":-0.45},{"g":0.4,"x":-0.04,"y":-0.32},{"g":0.4,"x":-0.02,"y":-0.17},{"g":0.4,"x":0,"y":0},{"g":0.4,"x":0.02,"y":0.21},{"g":0.4,"x":0.04,"y":0.41},{"g":0.4,"x":0.06,"y":0.62},{"g":0.4,"x":0.08,"y":0.82},{"g":0.4,"x":0.1,"y":1.03},{"g":0.4,"x":0.12,"y":1.23},{"g":0.4,"x":0.14,"y":1.44},{"g":0.4,"x":0.16,"y":1.64},{"g":0.4,"x":0.18,"y":1.85},{"g":0.4,"x":0.2,"y":2.05},
      {"g":0.5,"x":-0.5,"y":-0.69},{"g":0.5,"x":-0.48,"y":-0.69},{"g":0.5,"x":-0.46,"y":-0.69},{"g":0.5,"x":-0.44,"y":-0.69},{"g":0.5,"x":-0.42,"y":-0.69},{"g":0.5,"x":-0.4,"y":-0.69},{"g":0.5,"x":-0.38,"y":-0.68},{"g":0.5,"x":-0.36,"y":-0.68},{"g":0.5,"x":-0.34,"y":-0.68},{"g":0.5,"x":-0.32,"y":-0.68},{"g":0.5,"x":-0.3,"y":-0.68},{"g":0.5,"x":-0.28,"y":-0.67},{"g":0.5,"x":-0.26,"y":-0.67},{"g":0.5,"x":-0.24,"y":-0.66},{"g":0.5,"x":-0.22,"y":-0.65},{"g":0.5,"x":-0.2,"y":-0.63},{"g":0.5,"x":-0.18,"y":-0.61},{"g":0.5,"x":-0.16,"y":-0.58},{"g":0.5,"x":-0.14,"y":-0.54},{"g":0.5,"x":-0.12,"y":-0.49},{"g":0.5,"x":-0.1,"y":-0.43},{"g":0.5,"x":-0.08,"y":-0.37},{"g":0.5,"x":-0.06,"y":-0.29},{"g":0.5,"x":-0.04,"y":-0.2},{"g":0.5,"x":-0.02,"y":-0.11},{"g":0.5,"x":0,"y":0},{"g":0.5,"x":0.02,"y":0.16},{"g":0.5,"x":0.04,"y":0.31},{"g":0.5,"x":0.06,"y":0.47},{"g":0.5,"x":0.08,"y":0.62},{"g":0.5,"x":0.1,"y":0.78},{"g":0.5,"x":0.12,"y":0.93},{"g":0.5,"x":0.14,"y":1.09},{"g":0.5,"x":0.16,"y":1.24},{"g":0.5,"x":0.18,"y":1.4},{"g":0.5,"x":0.2,"y":1.55},
      {"g":0.6,"x":-0.5,"y":-0.25},{"g":0.6,"x":-0.48,"y":-0.25},{"g":0.6,"x":-0.46,"y":-0.25},{"g":0.6,"x":-0.44,"y":-0.25},{"g":0.6,"x":-0.42,"y":-0.25},{"g":0.6,"x":-0.4,"y":-0.25},{"g":0.6,"x":-0.38,"y":-0.25},{"g":0.6,"x":-0.36,"y":-0.25},{"g":0.6,"x":-0.34,"y":-0.25},{"g":0.6,"x":-0.32,"y":-0.25},{"g":0.6,"x":-0.3,"y":-0.25},{"g":0.6,"x":-0.28,"y":-0.25},{"g":0.6,"x":-0.26,"y":-0.25},{"g":0.6,"x":-0.24,"y":-0.25},{"g":0.6,"x":-0.22,"y":-0.25},{"g":0.6,"x":-0.2,"y":-0.25},{"g":0.6,"x":-0.18,"y":-0.25},{"g":0.6,"x":-0.16,"y":-0.25},{"g":0.6,"x":-0.14,"y":-0.25},{"g":0.6,"x":-0.12,"y":-0.25},{"g":0.6,"x":-0.1,"y":-0.24},{"g":0.6,"x":-0.08,"y":-0.22},{"g":0.6,"x":-0.06,"y":-0.19},{"g":0.6,"x":-0.04,"y":-0.15},{"g":0.6,"x":-0.02,"y":-0.08},{"g":0.6,"x":0,"y":0},{"g":0.6,"x":0.02,"y":0.1},{"g":0.6,"x":0.04,"y":0.2},{"g":0.6,"x":0.06,"y":0.31},{"g":0.6,"x":0.08,"y":0.41},{"g":0.6,"x":0.1,"y":0.51},{"g":0.6,"x":0.12,"y":0.61},{"g":0.6,"x":0.14,"y":0.71},{"g":0.6,"x":0.16,"y":0.82},{"g":0.6,"x":0.18,"y":0.92},{"g":0.6,"x":0.2,"y":1.02},
      {"g":0.7,"x":-0.5,"y":-0.12},{"g":0.7,"x":-0.48,"y":-0.12},{"g":0.7,"x":-0.46,"y":-0.12},{"g":0.7,"x":-0.44,"y":-0.12},{"g":0.7,"x":-0.42,"y":-0.12},{"g":0.7,"x":-0.4,"y":-0.12},{"g":0.7,"x":-0.38,"y":-0.12},{"g":0.7,"x":-0.36,"y":-0.12},{"g":0.7,"x":-0.34,"y":-0.12},{"g":0.7,"x":-0.32,"y":-0.12},{"g":0.7,"x":-0.3,"y":-0.12},{"g":0.7,"x":-0.28,"y":-0.12},{"g":0.7,"x":-0.26,"y":-0.12},{"g":0.7,"x":-0.24,"y":-0.12},{"g":0.7,"x":-0.22,"y":-0.12},{"g":0.7,"x":-0.2,"y":-0.12},{"g":0.7,"x":-0.18,"y":-0.12},{"g":0.7,"x":-0.16,"y":-0.12},{"g":0.7,"x":-0.14,"y":-0.12},{"g":0.7,"x":-0.12,"y":-0.12},{"g":0.7,"x":-0.1,"y":-0.12},{"g":0.7,"x":-0.08,"y":-0.11},{"g":0.7,"x":-0.06,"y":-0.1},{"g":0.7,"x":-0.04,"y":-0.08},{"g":0.7,"x":-0.02,"y":-0.05},{"g":0.7,"x":0,"y":0},{"g":0.7,"x":0.02,"y":0.05},{"g":0.7,"x":0.04,"y":0.1},{"g":0.7,"x":0.06,"y":0.16},{"g":0.7,"x":0.08,"y":0.21},{"g":0.7,"x":0.1,"y":0.26},{"g":0.7,"x":0.12,"y":0.31},{"g":0.7,"x":0.14,"y":0.36},{"g":0.7,"x":0.16,"y":0.42},{"g":0.7,"x":0.18,"y":0.47},{"g":0.7,"x":0.2,"y":0.52},
      {"g":0.8,"x":-0.5,"y":-0.01},{"g":0.8,"x":-0.48,"y":-0.01},{"g":0.8,"x":-0.46,"y":-0.01},{"g":0.8,"x":-0.44,"y":-0.01},{"g":0.8,"x":-0.42,"y":-0.01},{"g":0.8,"x":-0.4,"y":-0.01},{"g":0.8,"x":-0.38,"y":-0.01},{"g":0.8,"x":-0.36,"y":-0.01},{"g":0.8,"x":-0.34,"y":-0.01},{"g":0.8,"x":-0.32,"y":-0.01},{"g":0.8,"x":-0.3,"y":-0.01},{"g":0.8,"x":-0.28,"y":-0.01},{"g":0.8,"x":-0.26,"y":-0.01},{"g":0.8,"x":-0.24,"y":-0.01},{"g":0.8,"x":-0.22,"y":-0.01},{"g":0.8,"x":-0.2,"y":-0.01},{"g":0.8,"x":-0.18,"y":-0.01},{"g":0.8,"x":-0.16,"y":-0.01},{"g":0.8,"x":-0.14,"y":-0.01},{"g":0.8,"x":-0.12,"y":-0.01},{"g":0.8,"x":-0.1,"y":-0.01},{"g":0.8,"x":-0.08,"y":-0.01},{"g":0.8,"x":-0.06,"y":-0.01},{"g":0.8,"x":-0.04,"y":-0.01},{"g":0.8,"x":-0.02,"y":-0.01},{"g":0.8,"x":0,"y":0},{"g":0.8,"x":0.02,"y":0.01},{"g":0.8,"x":0.04,"y":0.03},{"g":0.8,"x":0.06,"y":0.04},{"g":0.8,"x":0.08,"y":0.06},{"g":0.8,"x":0.1,"y":0.07},{"g":0.8,"x":0.12,"y":0.08},{"g":0.8,"x":0.14,"y":0.1},{"g":0.8,"x":0.16,"y":0.11},{"g":0.8,"x":0.18,"y":0.13},{"g":0.8,"x":0.2,"y":0.14}
    ],
    "vinil": [
      {"g":-0.1,"x":-0.5,"y":-6.93},{"g":-0.1,"x":-0.48,"y":-6.7},{"g":-0.1,"x":-0.46,"y":-6.48},{"g":-0.1,"x":-0.44,"y":-6.23},{"g":-0.1,"x":-0.42,"y":-6},{"g":-0.1,"x":-0.4,"y":-5.77},{"g":-0.1,"x":-0.38,"y":-5.51},{"g":-0.1,"x":-0.36,"y":-5.26},{"g":-0.1,"x":-0.34,"y":-5},{"g":-0.1,"x":-0.32,"y":-4.73},{"g":-0.1,"x":-0.3,"y":-4.47},{"g":-0.1,"x":-0.28,"y":-4.18},{"g":-0.1,"x":-0.26,"y":-3.92},{"g":-0.1,"x":-0.24,"y":-3.64},{"g":-0.1,"x":-0.22,"y":-3.36},{"g":-0.1,"x":-0.2,"y":-3.07},{"g":-0.1,"x":-0.18,"y":-2.8},{"g":-0.1,"x":-0.16,"y":-2.5},{"g":-0.1,"x":-0.14,"y":-2.2},{"g":-0.1,"x":-0.12,"y":-1.91},{"g":-0.1,"x":-0.1,"y":-1.6},{"g":-0.1,"x":-0.08,"y":-1.3},{"g":-0.1,"x":-0.06,"y":-0.98},{"g":-0.1,"x":-0.04,"y":-0.66},{"g":-0.1,"x":-0.02,"y":-0.34},{"g":-0.1,"x":0,"y":0},{"g":-0.1,"x":0.02,"y":0.33},{"g":-0.1,"x":0.04,"y":0.66},{"g":-0.1,"x":0.06,"y":0.98},{"g":-0.1,"x":0.08,"y":1.31},{"g":-0.1,"x":0.1,"y":1.64},{"g":-0.1,"x":0.12,"y":1.97},{"g":-0.1,"x":0.14,"y":2.3},{"g":-0.1,"x":0.16,"y":2.62},{"g":-0.1,"x":0.18,"y":2.95},{"g":-0.1,"x":0.2,"y":3.28},
      {"g":0,"x":-0.5,"y":-6.23},{"g":0,"x":-0.48,"y":-6.03},{"g":0,"x":-0.46,"y":-5.86},{"g":0,"x":-0.44,"y":-5.66},{"g":0,"x":-0.42,"y":-5.49},{"g":0,"x":-0.4,"y":-5.28},{"g":0,"x":-0.38,"y":-5.07},{"g":0,"x":-0.36,"y":-4.84},{"g":0,"x":-0.34,"y":-4.64},{"g":0,"x":-0.32,"y":-4.41},{"g":0,"x":-0.3,"y":-4.16},{"g":0,"x":-0.28,"y":-3.93},{"g":0,"x":-0.26,"y":-3.69},{"g":0,"x":-0.24,"y":-3.44},{"g":0,"x":-0.22,"y":-3.18},{"g":0,"x":-0.2,"y":-2.93},{"g":0,"x":-0.18,"y":-2.67},{"g":0,"x":-0.16,"y":-2.4},{"g":0,"x":-0.14,"y":-2.14},{"g":0,"x":-0.12,"y":-1.85},{"g":0,"x":-0.1,"y":-1.57},{"g":0,"x":-0.08,"y":-1.28},{"g":0,"x":-0.06,"y":-0.97},{"g":0,"x":-0.04,"y":-0.66},{"g":0,"x":-0.02,"y":-0.34},{"g":0,"x":0,"y":0},{"g":0,"x":0.02,"y":0.32},{"g":0,"x":0.04,"y":0.64},{"g":0,"x":0.06,"y":0.95},{"g":0,"x":0.08,"y":1.27},{"g":0,"x":0.1,"y":1.59},{"g":0,"x":0.12,"y":1.91},{"g":0,"x":0.14,"y":2.23},{"g":0,"x":0.16,"y":2.54},{"g":0,"x":0.18,"y":2.86},{"g":0,"x":0.2,"y":3.18},
      {"g":0.1,"x":-0.5,"y":-5.26},{"g":0.1,"x":-0.48,"y":-5.15},{"g":0.1,"x":-0.46,"y":-5},{"g":0.1,"x":-0.44,"y":-4.89},{"g":0.1,"x":-0.42,"y":-4.73},{"g":0.1,"x":-0.4,"y":-4.58},{"g":0.1,"x":-0.38,"y":-4.41},{"g":0.1,"x":-0.36,"y":-4.24},{"g":0.1,"x":-0.34,"y":-4.07},{"g":0.1,"x":-0.32,"y":-3.9},{"g":0.1,"x":-0.3,"y":-3.7},{"g":0.1,"x":-0.28,"y":-3.5},{"g":0.1,"x":-0.26,"y":-3.31},{"g":0.1,"x":-0.24,"y":-3.08},{"g":0.1,"x":-0.22,"y":-2.85},{"g":0.1,"x":-0.2,"y":-2.61},{"g":0.1,"x":-0.18,"y":-2.39},{"g":0.1,"x":-0.16,"y":-2.14},{"g":0.1,"x":-0.14,"y":-1.91},{"g":0.1,"x":-0.12,"y":-1.65},{"g":0.1,"x":-0.1,"y":-1.4},{"g":0.1,"x":-0.08,"y":-1.14},{"g":0.1,"x":-0.06,"y":-0.86},{"g":0.1,"x":-0.04,"y":-0.58},{"g":0.1,"x":-0.02,"y":-0.3},{"g":0.1,"x":0,"y":0},{"g":0.1,"x":0.02,"y":0.31},{"g":0.1,"x":0.04,"y":0.61},{"g":0.1,"x":0.06,"y":0.92},{"g":0.1,"x":0.08,"y":1.22},{"g":0.1,"x":0.1,"y":1.53},{"g":0.1,"x":0.12,"y":1.84},{"g":0.1,"x":0.14,"y":2.14},{"g":0.1,"x":0.16,"y":2.45},{"g":0.1,"x":0.18,"y":2.75},{"g":0.1,"x":0.2,"y":3.06},
      {"g":0.2,"x":-0.5,"y":-4.16},{"g":0.2,"x":-0.48,"y":-4.09},{"g":0.2,"x":-0.46,"y":-4.01},{"g":0.2,"x":-0.44,"y":-3.92},{"g":0.2,"x":-0.42,"y":-3.82},{"g":0.2,"x":-0.4,"y":-3.73},{"g":0.2,"x":-0.38,"y":-3.61},{"g":0.2,"x":-0.36,"y":-3.5},{"g":0.2,"x":-0.34,"y":-3.39},{"g":0.2,"x":-0.32,"y":-3.25},{"g":0.2,"x":-0.3,"y":-3.1},{"g":0.2,"x":-0.28,"y":-2.97},{"g":0.2,"x":-0.26,"y":-2.82},{"g":0.2,"x":-0.24,"y":-2.63},{"g":0.2,"x":-0.22,"y":-2.45},{"g":0.2,"x":-0.2,"y":-2.27},{"g":0.2,"x":-0.18,"y":-2.08},{"g":0.2,"x":-0.16,"y":-1.88},{"g":0.2,"x":-0.14,"y":-1.68},{"g":0.2,"x":-0.12,"y":-1.45},{"g":0.2,"x":-0.1,"y":-1.23},{"g":0.2,"x":-0.08,"y":-1},{"g":0.2,"x":-0.06,"y":-0.75},{"g":0.2,"x":-0.04,"y":-0.5},{"g":0.2,"x":-0.02,"y":-0.25},{"g":0.2,"x":0,"y":0},{"g":0.2,"x":0.02,"y":0.29},{"g":0.2,"x":0.04,"y":0.57},{"g":0.2,"x":0.06,"y":0.86},{"g":0.2,"x":0.08,"y":1.14},{"g":0.2,"x":0.1,"y":1.43},{"g":0.2,"x":0.12,"y":1.72},{"g":0.2,"x":0.14,"y":2},{"g":0.2,"x":0.16,"y":2.29},{"g":0.2,"x":0.18,"y":2.57},{"g":0.2,"x":0.2,"y":2.86},
      {"g":0.3,"x":-0.5,"y":-2.97},{"g":0.3,"x":-0.48,"y":-2.93},{"g":0.3,"x":-0.46,"y":-2.9},{"g":0.3,"x":-0.44,"y":-2.85},{"g":0.3,"x":-0.42,"y":-2.82},{"g":0.3,"x":-0.4,"y":-2.76},{"g":0.3,"x":-0.38,"y":-2.7},{"g":0.3,"x":-0.36,"y":-2.65},{"g":0.3,"x":-0.34,"y":-2.57},{"g":0.3,"x":-0.32,"y":-2.49},{"g":0.3,"x":-0.3,"y":-2.41},{"g":0.3,"x":-0.28,"y":-2.32},{"g":0.3,"x":-0.26,"y":-2.22},{"g":0.3,"x":-0.24,"y":-2.1},{"g":0.3,"x":-0.22,"y":-1.97},{"g":0.3,"x":-0.2,"y":-1.83},{"g":0.3,"x":-0.18,"y":-1.68},{"g":0.3,"x":-0.16,"y":-1.53},{"g":0.3,"x":-0.14,"y":-1.36},{"g":0.3,"x":-0.12,"y":-1.19},{"g":0.3,"x":-0.1,"y":-1},{"g":0.3,"x":-0.08,"y":-0.81},{"g":0.3,"x":-0.06,"y":-0.63},{"g":0.3,"x":-0.04,"y":-0.43},{"g":0.3,"x":-0.02,"y":-0.23},{"g":0.3,"x":0,"y":0},{"g":0.3,"x":0.02,"y":0.26},{"g":0.3,"x":0.04,"y":0.52},{"g":0.3,"x":0.06,"y":0.77},{"g":0.3,"x":0.08,"y":1.03},{"g":0.3,"x":0.1,"y":1.29},{"g":0.3,"x":0.12,"y":1.55},{"g":0.3,"x":0.14,"y":1.81},{"g":0.3,"x":0.16,"y":2.06},{"g":0.3,"x":0.18,"y":2.32},{"g":0.3,"x":0.2,"y":2.58},
      {"g":0.4,"x":-0.5,"y":-1.83},{"g":0.4,"x":-0.48,"y":-1.83},{"g":0.4,"x":-0.46,"y":-1.82},{"g":0.4,"x":-0.44,"y":-1.81},{"g":0.4,"x":-0.42,"y":-1.8},{"g":0.4,"x":-0.4,"y":-1.78},{"g":0.4,"x":-0.38,"y":-1.77},{"g":0.4,"x":-0.36,"y":-1.75},{"g":0.4,"x":-0.34,"y":-1.72},{"g":0.4,"x":-0.32,"y":-1.69},{"g":0.4,"x":-0.3,"y":-1.66},{"g":0.4,"x":-0.28,"y":-1.62},{"g":0.4,"x":-0.26,"y":-1.57},{"g":0.4,"x":-0.24,"y":-1.51},{"g":0.4,"x":-0.22,"y":-1.45},{"g":0.4,"x":-0.2,"y":-1.37},{"g":0.4,"x":-0.18,"y":-1.28},{"g":0.4,"x":-0.16,"y":-1.18},{"g":0.4,"x":-0.14,"y":-1.07},{"g":0.4,"x":-0.12,"y":-0.95},{"g":0.4,"x":-0.1,"y":-0.82},{"g":0.4,"x":-0.08,"y":-0.68},{"g":0.4,"x":-0.06,"y":-0.53},{"g":0.4,"x":-0.04,"y":-0.37},{"g":0.4,"x":-0.02,"y":-0.19},{"g":0.4,"x":0,"y":0},{"g":0.4,"x":0.02,"y":0.22},{"g":0.4,"x":0.04,"y":0.44},{"g":0.4,"x":0.06,"y":0.65},{"g":0.4,"x":0.08,"y":0.87},{"g":0.4,"x":0.1,"y":1.09},{"g":0.4,"x":0.12,"y":1.31},{"g":0.4,"x":0.14,"y":1.53},{"g":0.4,"x":0.16,"y":1.74},{"g":0.4,"x":0.18,"y":1.96},{"g":0.4,"x":0.2,"y":2.18},
      {"g":0.5,"x":-0.5,"y":-0.94},{"g":0.5,"x":-0.48,"y":-0.94},{"g":0.5,"x":-0.46,"y":-0.94},{"g":0.5,"x":-0.44,"y":-0.94},{"g":0.5,"x":-0.42,"y":-0.94},{"g":0.5,"x":-0.4,"y":-0.93},{"g":0.5,"x":-0.38,"y":-0.93},{"g":0.5,"x":-0.36,"y":-0.93},{"g":0.5,"x":-0.34,"y":-0.93},{"g":0.5,"x":-0.32,"y":-0.92},{"g":0.5,"x":-0.3,"y":-0.91},{"g":0.5,"x":-0.28,"y":-0.89},{"g":0.5,"x":-0.26,"y":-0.87},{"g":0.5,"x":-0.24,"y":-0.85},{"g":0.5,"x":-0.22,"y":-0.82},{"g":0.5,"x":-0.2,"y":-0.79},{"g":0.5,"x":-0.18,"y":-0.75},{"g":0.5,"x":-0.16,"y":-0.7},{"g":0.5,"x":-0.14,"y":-0.65},{"g":0.5,"x":-0.12,"y":-0.59},{"g":0.5,"x":-0.1,"y":-0.52},{"g":0.5,"x":-0.08,"y":-0.45},{"g":0.5,"x":-0.06,"y":-0.36},{"g":0.5,"x":-0.04,"y":-0.26},{"g":0.5,"x":-0.02,"y":-0.14},{"g":0.5,"x":0,"y":0},{"g":0.5,"x":0.02,"y":0.17},{"g":0.5,"x":0.04,"y":0.34},{"g":0.5,"x":0.06,"y":0.51},{"g":0.5,"x":0.08,"y":0.68},{"g":0.5,"x":0.1,"y":0.85},{"g":0.5,"x":0.12,"y":1.02},{"g":0.5,"x":0.14,"y":1.19},{"g":0.5,"x":0.16,"y":1.36},{"g":0.5,"x":0.18,"y":1.53},{"g":0.5,"x":0.2,"y":1.7},
      {"g":0.6,"x":-0.5,"y":-0.4},{"g":0.6,"x":-0.48,"y":-0.4},{"g":0.6,"x":-0.46,"y":-0.4},{"g":0.6,"x":-0.44,"y":-0.4},{"g":0.6,"x":-0.42,"y":-0.4},{"g":0.6,"x":-0.4,"y":-0.4},{"g":0.6,"x":-0.38,"y":-0.4},{"g":0.6,"x":-0.36,"y":-0.4},{"g":0.6,"x":-0.34,"y":-0.4},{"g":0.6,"x":-0.32,"y":-0.4},{"g":0.6,"x":-0.3,"y":-0.4},{"g":0.6,"x":-0.28,"y":-0.4},{"g":0.6,"x":-0.26,"y":-0.4},{"g":0.6,"x":-0.24,"y":-0.4},{"g":0.6,"x":-0.22,"y":-0.4},{"g":0.6,"x":-0.2,"y":-0.4},{"g":0.6,"x":-0.18,"y":-0.4},{"g":0.6,"x":-0.16,"y":-0.4},{"g":0.6,"x":-0.14,"y":-0.4},{"g":0.6,"x":-0.12,"y":-0.38},{"g":0.6,"x":-0.1,"y":-0.36},{"g":0.6,"x":-0.08,"y":-0.33},{"g":0.6,"x":-0.06,"y":-0.28},{"g":0.6,"x":-0.04,"y":-0.21},{"g":0.6,"x":-0.02,"y":-0.12},{"g":0.6,"x":0,"y":0},{"g":0.6,"x":0.02,"y":0.12},{"g":0.6,"x":0.04,"y":0.24},{"g":0.6,"x":0.06,"y":0.35},{"g":0.6,"x":0.08,"y":0.47},{"g":0.6,"x":0.1,"y":0.59},{"g":0.6,"x":0.12,"y":0.71},{"g":0.6,"x":0.14,"y":0.83},{"g":0.6,"x":0.16,"y":0.94},{"g":0.6,"x":0.18,"y":1.06},{"g":0.6,"x":0.2,"y":1.18},
      {"g":0.7,"x":-0.5,"y":-0.13},{"g":0.7,"x":-0.48,"y":-0.13},{"g":0.7,"x":-0.46,"y":-0.13},{"g":0.7,"x":-0.44,"y":-0.13},{"g":0.7,"x":-0.42,"y":-0.13},{"g":0.7,"x":-0.4,"y":-0.13},{"g":0.7,"x":-0.38,"y":-0.13},{"g":0.7,"x":-0.36,"y":-0.13},{"g":0.7,"x":-0.34,"y":-0.13},{"g":0.7,"x":-0.32,"y":-0.13},{"g":0.7,"x":-0.3,"y":-0.13},{"g":0.7,"x":-0.28,"y":-0.13},{"g":0.7,"x":-0.26,"y":-0.13},{"g":0.7,"x":-0.24,"y":-0.13},{"g":0.7,"x":-0.22,"y":-0.13},{"g":0.7,"x":-0.2,"y":-0.13},{"g":0.7,"x":-0.18,"y":-0.13},{"g":0.7,"x":-0.16,"y":-0.13},{"g":0.7,"x":-0.14,"y":-0.13},{"g":0.7,"x":-0.12,"y":-0.13},{"g":0.7,"x":-0.1,"y":-0.13},{"g":0.7,"x":-0.08,"y":-0.12},{"g":0.7,"x":-0.06,"y":-0.11},{"g":0.7,"x":-0.04,"y":-0.09},{"g":0.7,"x":-0.02,"y":-0.05},{"g":0.7,"x":0,"y":0},{"g":0.7,"x":0.02,"y":0.07},{"g":0.7,"x":0.04,"y":0.14},{"g":0.7,"x":0.06,"y":0.21},{"g":0.7,"x":0.08,"y":0.28},{"g":0.7,"x":0.1,"y":0.35},{"g":0.7,"x":0.12,"y":0.42},{"g":0.7,"x":0.14,"y":0.49},{"g":0.7,"x":0.16,"y":0.56},{"g":0.7,"x":0.18,"y":0.63},{"g":0.7,"x":0.2,"y":0.7},
      {"g":0.8,"x":-0.5,"y":-0.01},{"g":0.8,"x":-0.48,"y":-0.01},{"g":0.8,"x":-0.46,"y":-0.01},{"g":0.8,"x":-0.44,"y":-0.01},{"g":0.8,"x":-0.42,"y":-0.01},{"g":0.8,"x":-0.4,"y":-0.01},{"g":0.8,"x":-0.38,"y":-0.01},{"g":0.8,"x":-0.36,"y":-0.01},{"g":0.8,"x":-0.34,"y":-0.01},{"g":0.8,"x":-0.32,"y":-0.01},{"g":0.8,"x":-0.3,"y":-0.01},{"g":0.8,"x":-0.28,"y":-0.01},{"g":0.8,"x":-0.26,"y":-0.01},{"g":0.8,"x":-0.24,"y":-0.01},{"g":0.8,"x":-0.22,"y":-0.01},{"g":0.8,"x":-0.2,"y":-0.01},{"g":0.8,"x":-0.18,"y":-0.01},{"g":0.8,"x":-0.16,"y":-0.01},{"g":0.8,"x":-0.14,"y":-0.01},{"g":0.8,"x":-0.12,"y":-0.01},{"g":0.8,"x":-0.1,"y":-0.01},{"g":0.8,"x":-0.08,"y":-0.01},{"g":0.8,"x":-0.06,"y":-0.01},{"g":0.8,"x":-0.04,"y":-0.01},{"g":0.8,"x":-0.02,"y":-0.01},{"g":0.8,"x":0,"y":0},{"g":0.8,"x":0.02,"y":0.02},{"g":0.8,"x":0.04,"y":0.05},{"g":0.8,"x":0.06,"y":0.07},{"g":0.8,"x":0.08,"y":0.1},{"g":0.8,"x":0.1,"y":0.12},{"g":0.8,"x":0.12,"y":0.14},{"g":0.8,"x":0.14,"y":0.17},{"g":0.8,"x":0.16,"y":0.19},{"g":0.8,"x":0.18,"y":0.22},{"g":0.8,"x":0.2,"y":0.24}
    ],
    "notes": [
      {"p":"GOPS","k":"title","t":"GOPS","x":-0.161,"y":2.59},
      {"p":"GOPS","k":"big","t":"V","x":-0.469,"y":1.83},
      {"p":"GOPS","k":"sub","t":"G","x":-0.449,"y":1.65},
      {"p":"GOPS","k":"big","t":"= 0.8","x":-0.43,"y":1.83},
      {"p":"GOPS","k":"big","t":"V","x":-0.492,"y":-7.56},
      {"p":"GOPS","k":"sub","t":"G","x":-0.472,"y":-7.75},
      {"p":"GOPS","k":"big","t":"= -0.1","x":-0.451,"y":-7.56},
      {"p":"GOPS","k":"arrow","x":-0.414,"y":-6.59,"y2":1.1},
      {"p":"Trime","k":"title","t":"Trime","x":-0.144,"y":2.61},
      {"p":"Trime","k":"big","t":"V","x":-0.463,"y":2.11},
      {"p":"Trime","k":"sub","t":"G","x":-0.444,"y":1.93},
      {"p":"Trime","k":"big","t":"= 0.8","x":-0.422,"y":2.11},
      {"p":"Trime","k":"big","t":"V","x":-0.487,"y":-7.24},
      {"p":"Trime","k":"sub","t":"G","x":-0.468,"y":-7.44},
      {"p":"Trime","k":"big","t":"= -0.1","x":-0.444,"y":-7.24},
      {"p":"Trime","k":"arrow","x":-0.407,"y":-6.31,"y2":1.39},
      {"p":"Cloro","k":"title","t":"Cloro","x":-0.166,"y":2.6},
      {"p":"Cloro","k":"big","t":"V","x":-0.466,"y":1.78},
      {"p":"Cloro","k":"sub","t":"G","x":-0.446,"y":1.58},
      {"p":"Cloro","k":"big","t":"= 0.8","x":-0.424,"y":1.78},
      {"p":"Cloro","k":"big","t":"V","x":-0.487,"y":-7.59},
      {"p":"Cloro","k":"sub","t":"G","x":-0.468,"y":-7.77},
      {"p":"Cloro","k":"big","t":"= -0.1","x":-0.446,"y":-7.59},
      {"p":"Cloro","k":"arrow","x":-0.407,"y":-6.66,"y2":1.0},
      {"p":"Vinil","k":"title","t":"Vinil","x":-0.156,"y":2.55},
      {"p":"Vinil","k":"big","t":"V","x":-0.438,"y":1.73},
      {"p":"Vinil","k":"sub","t":"G","x":-0.417,"y":1.52},
      {"p":"Vinil","k":"big","t":"= 0.8","x":-0.395,"y":1.73},
      {"p":"Vinil","k":"big","t":"V","x":-0.459,"y":-7.65},
      {"p":"Vinil","k":"sub","t":"G","x":-0.439,"y":-7.85},
      {"p":"Vinil","k":"big","t":"= -0.1","x":-0.416,"y":-7.65},
      {"p":"Vinil","k":"arrow","x":-0.38,"y":-6.74,"y2":0.94}
    ]
  },
  "concat": [
    {
      "width": 480, "height": 352,
      "data": {"name": "gops"},
      "resolve": {"axis": {"x": "independent", "y": "independent"}},
      "layer": [
        {"mark": {"type": "point", "shape": "circle", "filled": false, "size": 100, "strokeWidth": 1.4, "opacity": 1},
         "encoding": {
           "x": {"field": "x", "type": "quantitative", "scale": {"domain": [-0.51, 0.209], "nice": false, "zero": false}, "axis": {"orient": "bottom", "values": [-0.5,-0.4,-0.3,-0.2,-0.1,0,0.1,0.2], "labelExpr": "replace(replace(format(datum.value, '.1f'), '.', ','), '\u2212', '-')", "title": "Voltagem do dreno (V)", "labelPadding": 6, "titlePadding": 9, "labelFlush": false, "labelOverlap": false}},
           "y": {"field": "y", "type": "quantitative", "scale": {"domain": [-8, 4], "nice": false, "zero": false}, "axis": {"orient": "left", "values": [-8,-6,-4,-2,0,2,4], "labelExpr": "replace(format(datum.value, 'd'), '\u2212', '-')", "title": "Corrente do dreno (mA)", "labelPadding": 4, "titlePadding": 2, "labelOverlap": false}},
           "color": {"field": "g", "type": "nominal", "scale": {"domain": [-0.1,0,0.1,0.2,0.3,0.4,0.5,0.6,0.7,0.8], "range": ["#333333","#e0413a","#33509f","#3d9b4f","#a57bc2","#d19a2e","#5cc4c0","#6b4446","#8e9c47","#ee7d3e"]}, "legend": null}
         }},
        {"data": {"name": "notes"}, "transform": [{"filter": "datum.p == 'GOPS' && datum.k == 'arrow'"}],
         "mark": {"type": "rule", "color": "#1a1a1a", "strokeWidth": 2},
         "encoding": {
           "x": {"field": "x", "type": "quantitative", "scale": {"domain": [-0.51, 0.209], "nice": false, "zero": false}, "axis": {"orient": "bottom", "values": [-0.45,-0.35,-0.25,-0.15,-0.05,0.05,0.15], "labels": false, "domain": false, "tickSize": 3, "title": null}},
           "y": {"field": "y", "type": "quantitative", "scale": {"domain": [-8, 4], "nice": false, "zero": false}, "axis": {"orient": "left", "values": [-7,-5,-3,-1,1,3], "labels": false, "domain": false, "tickSize": 3, "title": null}},
           "y2": {"field": "y2"}
         }},
        {"data": {"name": "notes"}, "transform": [{"filter": "datum.p == 'GOPS' && datum.k == 'arrow'"}],
         "mark": {"type": "point", "shape": "M0,-1L1,0.6L0,0.15L-1,0.6Z", "filled": true, "size": 225, "color": "#1a1a1a", "opacity": 1, "strokeWidth": 0},
         "encoding": {
           "x": {"field": "x", "type": "quantitative", "axis": null},
           "y": {"field": "y2", "type": "quantitative", "axis": null}
         }},
        {"data": {"name": "notes"}, "transform": [{"filter": "datum.p == 'GOPS' && datum.k == 'title'"}],
         "mark": {"type": "text", "fontSize": 24, "align": "center", "baseline": "alphabetic", "color": "#111111"},
         "encoding": {"x": {"field": "x", "type": "quantitative", "axis": null}, "y": {"field": "y", "type": "quantitative", "axis": null}, "text": {"field": "t"}}},
        {"data": {"name": "notes"}, "transform": [{"filter": "datum.p == 'GOPS' && datum.k == 'big'"}],
         "mark": {"type": "text", "fontSize": 20, "align": "left", "baseline": "alphabetic", "color": "#111111"},
         "encoding": {"x": {"field": "x", "type": "quantitative", "axis": null}, "y": {"field": "y", "type": "quantitative", "axis": null}, "text": {"field": "t"}}},
        {"data": {"name": "notes"}, "transform": [{"filter": "datum.p == 'GOPS' && datum.k == 'sub'"}],
         "mark": {"type": "text", "fontSize": 9, "align": "left", "baseline": "alphabetic", "color": "#111111"},
         "encoding": {"x": {"field": "x", "type": "quantitative", "axis": null}, "y": {"field": "y", "type": "quantitative", "axis": null}, "text": {"field": "t"}}}
      ]
    },
    {
      "width": 480, "height": 352,
      "data": {"name": "trime"},
      "resolve": {"axis": {"x": "independent", "y": "independent"}},
      "layer": [
        {"mark": {"type": "point", "shape": "circle", "filled": false, "size": 100, "strokeWidth": 1.4, "opacity": 1},
         "encoding": {
           "x": {"field": "x", "type": "quantitative", "scale": {"domain": [-0.51, 0.209], "nice": false, "zero": false}, "axis": {"orient": "bottom", "values": [-0.5,-0.4,-0.3,-0.2,-0.1,0,0.1,0.2], "labelExpr": "replace(replace(format(datum.value, '.1f'), '.', ','), '\u2212', '-')", "title": "Voltagem do dreno (V)", "labelPadding": 6, "titlePadding": 9, "labelFlush": false, "labelOverlap": false}},
           "y": {"field": "y", "type": "quantitative", "scale": {"domain": [-8, 4], "nice": false, "zero": false}, "axis": {"orient": "left", "values": [-8,-6,-4,-2,0,2,4], "labelExpr": "replace(format(datum.value, 'd'), '\u2212', '-')", "title": "Corrente do dreno (mA)", "labelPadding": 4, "titlePadding": 2, "labelOverlap": false}},
           "color": {"field": "g", "type": "nominal", "scale": {"domain": [-0.1,0,0.1,0.2,0.3,0.4,0.5,0.6,0.7,0.8], "range": ["#333333","#e0413a","#33509f","#3d9b4f","#a57bc2","#d19a2e","#5cc4c0","#6b4446","#8e9c47","#ee7d3e"]}, "legend": null}
         }},
        {"data": {"name": "notes"}, "transform": [{"filter": "datum.p == 'Trime' && datum.k == 'arrow'"}],
         "mark": {"type": "rule", "color": "#1a1a1a", "strokeWidth": 2},
         "encoding": {
           "x": {"field": "x", "type": "quantitative", "scale": {"domain": [-0.51, 0.209], "nice": false, "zero": false}, "axis": {"orient": "bottom", "values": [-0.45,-0.35,-0.25,-0.15,-0.05,0.05,0.15], "labels": false, "domain": false, "tickSize": 3, "title": null}},
           "y": {"field": "y", "type": "quantitative", "scale": {"domain": [-8, 4], "nice": false, "zero": false}, "axis": {"orient": "left", "values": [-7,-5,-3,-1,1,3], "labels": false, "domain": false, "tickSize": 3, "title": null}},
           "y2": {"field": "y2"}
         }},
        {"data": {"name": "notes"}, "transform": [{"filter": "datum.p == 'Trime' && datum.k == 'arrow'"}],
         "mark": {"type": "point", "shape": "M0,-1L1,0.6L0,0.15L-1,0.6Z", "filled": true, "size": 225, "color": "#1a1a1a", "opacity": 1, "strokeWidth": 0},
         "encoding": {
           "x": {"field": "x", "type": "quantitative", "axis": null},
           "y": {"field": "y2", "type": "quantitative", "axis": null}
         }},
        {"data": {"name": "notes"}, "transform": [{"filter": "datum.p == 'Trime' && datum.k == 'title'"}],
         "mark": {"type": "text", "fontSize": 24, "align": "center", "baseline": "alphabetic", "color": "#111111"},
         "encoding": {"x": {"field": "x", "type": "quantitative", "axis": null}, "y": {"field": "y", "type": "quantitative", "axis": null}, "text": {"field": "t"}}},
        {"data": {"name": "notes"}, "transform": [{"filter": "datum.p == 'Trime' && datum.k == 'big'"}],
         "mark": {"type": "text", "fontSize": 20, "align": "left", "baseline": "alphabetic", "color": "#111111"},
         "encoding": {"x": {"field": "x", "type": "quantitative", "axis": null}, "y": {"field": "y", "type": "quantitative", "axis": null}, "text": {"field": "t"}}},
        {"data": {"name": "notes"}, "transform": [{"filter": "datum.p == 'Trime' && datum.k == 'sub'"}],
         "mark": {"type": "text", "fontSize": 9, "align": "left", "baseline": "alphabetic", "color": "#111111"},
         "encoding": {"x": {"field": "x", "type": "quantitative", "axis": null}, "y": {"field": "y", "type": "quantitative", "axis": null}, "text": {"field": "t"}}}
      ]
    },
    {
      "width": 480, "height": 352,
      "data": {"name": "cloro"},
      "resolve": {"axis": {"x": "independent", "y": "independent"}},
      "layer": [
        {"mark": {"type": "point", "shape": "circle", "filled": false, "size": 100, "strokeWidth": 1.4, "opacity": 1},
         "encoding": {
           "x": {"field": "x", "type": "quantitative", "scale": {"domain": [-0.51, 0.209], "nice": false, "zero": false}, "axis": {"orient": "bottom", "values": [-0.5,-0.4,-0.3,-0.2,-0.1,0,0.1,0.2], "labelExpr": "replace(replace(format(datum.value, '.1f'), '.', ','), '\u2212', '-')", "title": "Voltagem do dreno (V)", "labelPadding": 6, "titlePadding": 9, "labelFlush": false, "labelOverlap": false}},
           "y": {"field": "y", "type": "quantitative", "scale": {"domain": [-8, 4], "nice": false, "zero": false}, "axis": {"orient": "left", "values": [-8,-6,-4,-2,0,2,4], "labelExpr": "replace(format(datum.value, 'd'), '\u2212', '-')", "title": "Corrente do dreno (mA)", "labelPadding": 4, "titlePadding": 2, "labelOverlap": false}},
           "color": {"field": "g", "type": "nominal", "scale": {"domain": [-0.1,0,0.1,0.2,0.3,0.4,0.5,0.6,0.7,0.8], "range": ["#333333","#e0413a","#33509f","#3d9b4f","#a57bc2","#d19a2e","#5cc4c0","#6b4446","#8e9c47","#ee7d3e"]}, "legend": null}
         }},
        {"data": {"name": "notes"}, "transform": [{"filter": "datum.p == 'Cloro' && datum.k == 'arrow'"}],
         "mark": {"type": "rule", "color": "#1a1a1a", "strokeWidth": 2},
         "encoding": {
           "x": {"field": "x", "type": "quantitative", "scale": {"domain": [-0.51, 0.209], "nice": false, "zero": false}, "axis": {"orient": "bottom", "values": [-0.45,-0.35,-0.25,-0.15,-0.05,0.05,0.15], "labels": false, "domain": false, "tickSize": 3, "title": null}},
           "y": {"field": "y", "type": "quantitative", "scale": {"domain": [-8, 4], "nice": false, "zero": false}, "axis": {"orient": "left", "values": [-7,-5,-3,-1,1,3], "labels": false, "domain": false, "tickSize": 3, "title": null}},
           "y2": {"field": "y2"}
         }},
        {"data": {"name": "notes"}, "transform": [{"filter": "datum.p == 'Cloro' && datum.k == 'arrow'"}],
         "mark": {"type": "point", "shape": "M0,-1L1,0.6L0,0.15L-1,0.6Z", "filled": true, "size": 225, "color": "#1a1a1a", "opacity": 1, "strokeWidth": 0},
         "encoding": {
           "x": {"field": "x", "type": "quantitative", "axis": null},
           "y": {"field": "y2", "type": "quantitative", "axis": null}
         }},
        {"data": {"name": "notes"}, "transform": [{"filter": "datum.p == 'Cloro' && datum.k == 'title'"}],
         "mark": {"type": "text", "fontSize": 24, "align": "center", "baseline": "alphabetic", "color": "#111111"},
         "encoding": {"x": {"field": "x", "type": "quantitative", "axis": null}, "y": {"field": "y", "type": "quantitative", "axis": null}, "text": {"field": "t"}}},
        {"data": {"name": "notes"}, "transform": [{"filter": "datum.p == 'Cloro' && datum.k == 'big'"}],
         "mark": {"type": "text", "fontSize": 20, "align": "left", "baseline": "alphabetic", "color": "#111111"},
         "encoding": {"x": {"field": "x", "type": "quantitative", "axis": null}, "y": {"field": "y", "type": "quantitative", "axis": null}, "text": {"field": "t"}}},
        {"data": {"name": "notes"}, "transform": [{"filter": "datum.p == 'Cloro' && datum.k == 'sub'"}],
         "mark": {"type": "text", "fontSize": 9, "align": "left", "baseline": "alphabetic", "color": "#111111"},
         "encoding": {"x": {"field": "x", "type": "quantitative", "axis": null}, "y": {"field": "y", "type": "quantitative", "axis": null}, "text": {"field": "t"}}}
      ]
    },
    {
      "width": 480, "height": 352,
      "data": {"name": "vinil"},
      "resolve": {"axis": {"x": "independent", "y": "independent"}},
      "layer": [
        {"mark": {"type": "point", "shape": "circle", "filled": false, "size": 100, "strokeWidth": 1.4, "opacity": 1},
         "encoding": {
           "x": {"field": "x", "type": "quantitative", "scale": {"domain": [-0.51, 0.209], "nice": false, "zero": false}, "axis": {"orient": "bottom", "values": [-0.5,-0.4,-0.3,-0.2,-0.1,0,0.1,0.2], "labelExpr": "replace(replace(format(datum.value, '.1f'), '.', ','), '\u2212', '-')", "title": "Voltagem do dreno (V)", "labelPadding": 6, "titlePadding": 9, "labelFlush": false, "labelOverlap": false}},
           "y": {"field": "y", "type": "quantitative", "scale": {"domain": [-8, 4], "nice": false, "zero": false}, "axis": {"orient": "left", "values": [-8,-6,-4,-2,0,2,4], "labelExpr": "replace(format(datum.value, 'd'), '\u2212', '-')", "title": "Corrente do dreno (mA)", "labelPadding": 4, "titlePadding": 2, "labelOverlap": false}},
           "color": {"field": "g", "type": "nominal", "scale": {"domain": [-0.1,0,0.1,0.2,0.3,0.4,0.5,0.6,0.7,0.8], "range": ["#333333","#e0413a","#33509f","#3d9b4f","#a57bc2","#d19a2e","#5cc4c0","#6b4446","#8e9c47","#ee7d3e"]}, "legend": null}
         }},
        {"data": {"name": "notes"}, "transform": [{"filter": "datum.p == 'Vinil' && datum.k == 'arrow'"}],
         "mark": {"type": "rule", "color": "#1a1a1a", "strokeWidth": 2},
         "encoding": {
           "x": {"field": "x", "type": "quantitative", "scale": {"domain": [-0.51, 0.209], "nice": false, "zero": false}, "axis": {"orient": "bottom", "values": [-0.45,-0.35,-0.25,-0.15,-0.05,0.05,0.15], "labels": false, "domain": false, "tickSize": 3, "title": null}},
           "y": {"field": "y", "type": "quantitative", "scale": {"domain": [-8, 4], "nice": false, "zero": false}, "axis": {"orient": "left", "values": [-7,-5,-3,-1,1,3], "labels": false, "domain": false, "tickSize": 3, "title": null}},
           "y2": {"field": "y2"}
         }},
        {"data": {"name": "notes"}, "transform": [{"filter": "datum.p == 'Vinil' && datum.k == 'arrow'"}],
         "mark": {"type": "point", "shape": "M0,-1L1,0.6L0,0.15L-1,0.6Z", "filled": true, "size": 225, "color": "#1a1a1a", "opacity": 1, "strokeWidth": 0},
         "encoding": {
           "x": {"field": "x", "type": "quantitative", "axis": null},
           "y": {"field": "y2", "type": "quantitative", "axis": null}
         }},
        {"data": {"name": "notes"}, "transform": [{"filter": "datum.p == 'Vinil' && datum.k == 'title'"}],
         "mark": {"type": "text", "fontSize": 24, "align": "center", "baseline": "alphabetic", "color": "#111111"},
         "encoding": {"x": {"field": "x", "type": "quantitative", "axis": null}, "y": {"field": "y", "type": "quantitative", "axis": null}, "text": {"field": "t"}}},
        {"data": {"name": "notes"}, "transform": [{"filter": "datum.p == 'Vinil' && datum.k == 'big'"}],
         "mark": {"type": "text", "fontSize": 20, "align": "left", "baseline": "alphabetic", "color": "#111111"},
         "encoding": {"x": {"field": "x", "type": "quantitative", "axis": null}, "y": {"field": "y", "type": "quantitative", "axis": null}, "text": {"field": "t"}}},
        {"data": {"name": "notes"}, "transform": [{"filter": "datum.p == 'Vinil' && datum.k == 'sub'"}],
         "mark": {"type": "text", "fontSize": 9, "align": "left", "baseline": "alphabetic", "color": "#111111"},
         "encoding": {"x": {"field": "x", "type": "quantitative", "axis": null}, "y": {"field": "y", "type": "quantitative", "axis": null}, "text": {"field": "t"}}}
      ]
    }
  ],
  "config": {
    "view": {"stroke": "#2b2b2b", "strokeWidth": 1.5},
    "axis": {"grid": false, "labelFont": "Liberation Sans", "labelFontWeight": "bold", "labelFontSize": 16, "labelColor": "#111111", "titleFont": "Liberation Sans", "titleFontWeight": "bold", "titleFontSize": 20, "titleColor": "#111111", "domainColor": "#2b2b2b", "domainWidth": 1.5, "tickColor": "#2b2b2b", "tickWidth": 1.5, "tickSize": 5},
    "text": {"font": "Liberation Sans", "fontWeight": "bold"}
  }
}
